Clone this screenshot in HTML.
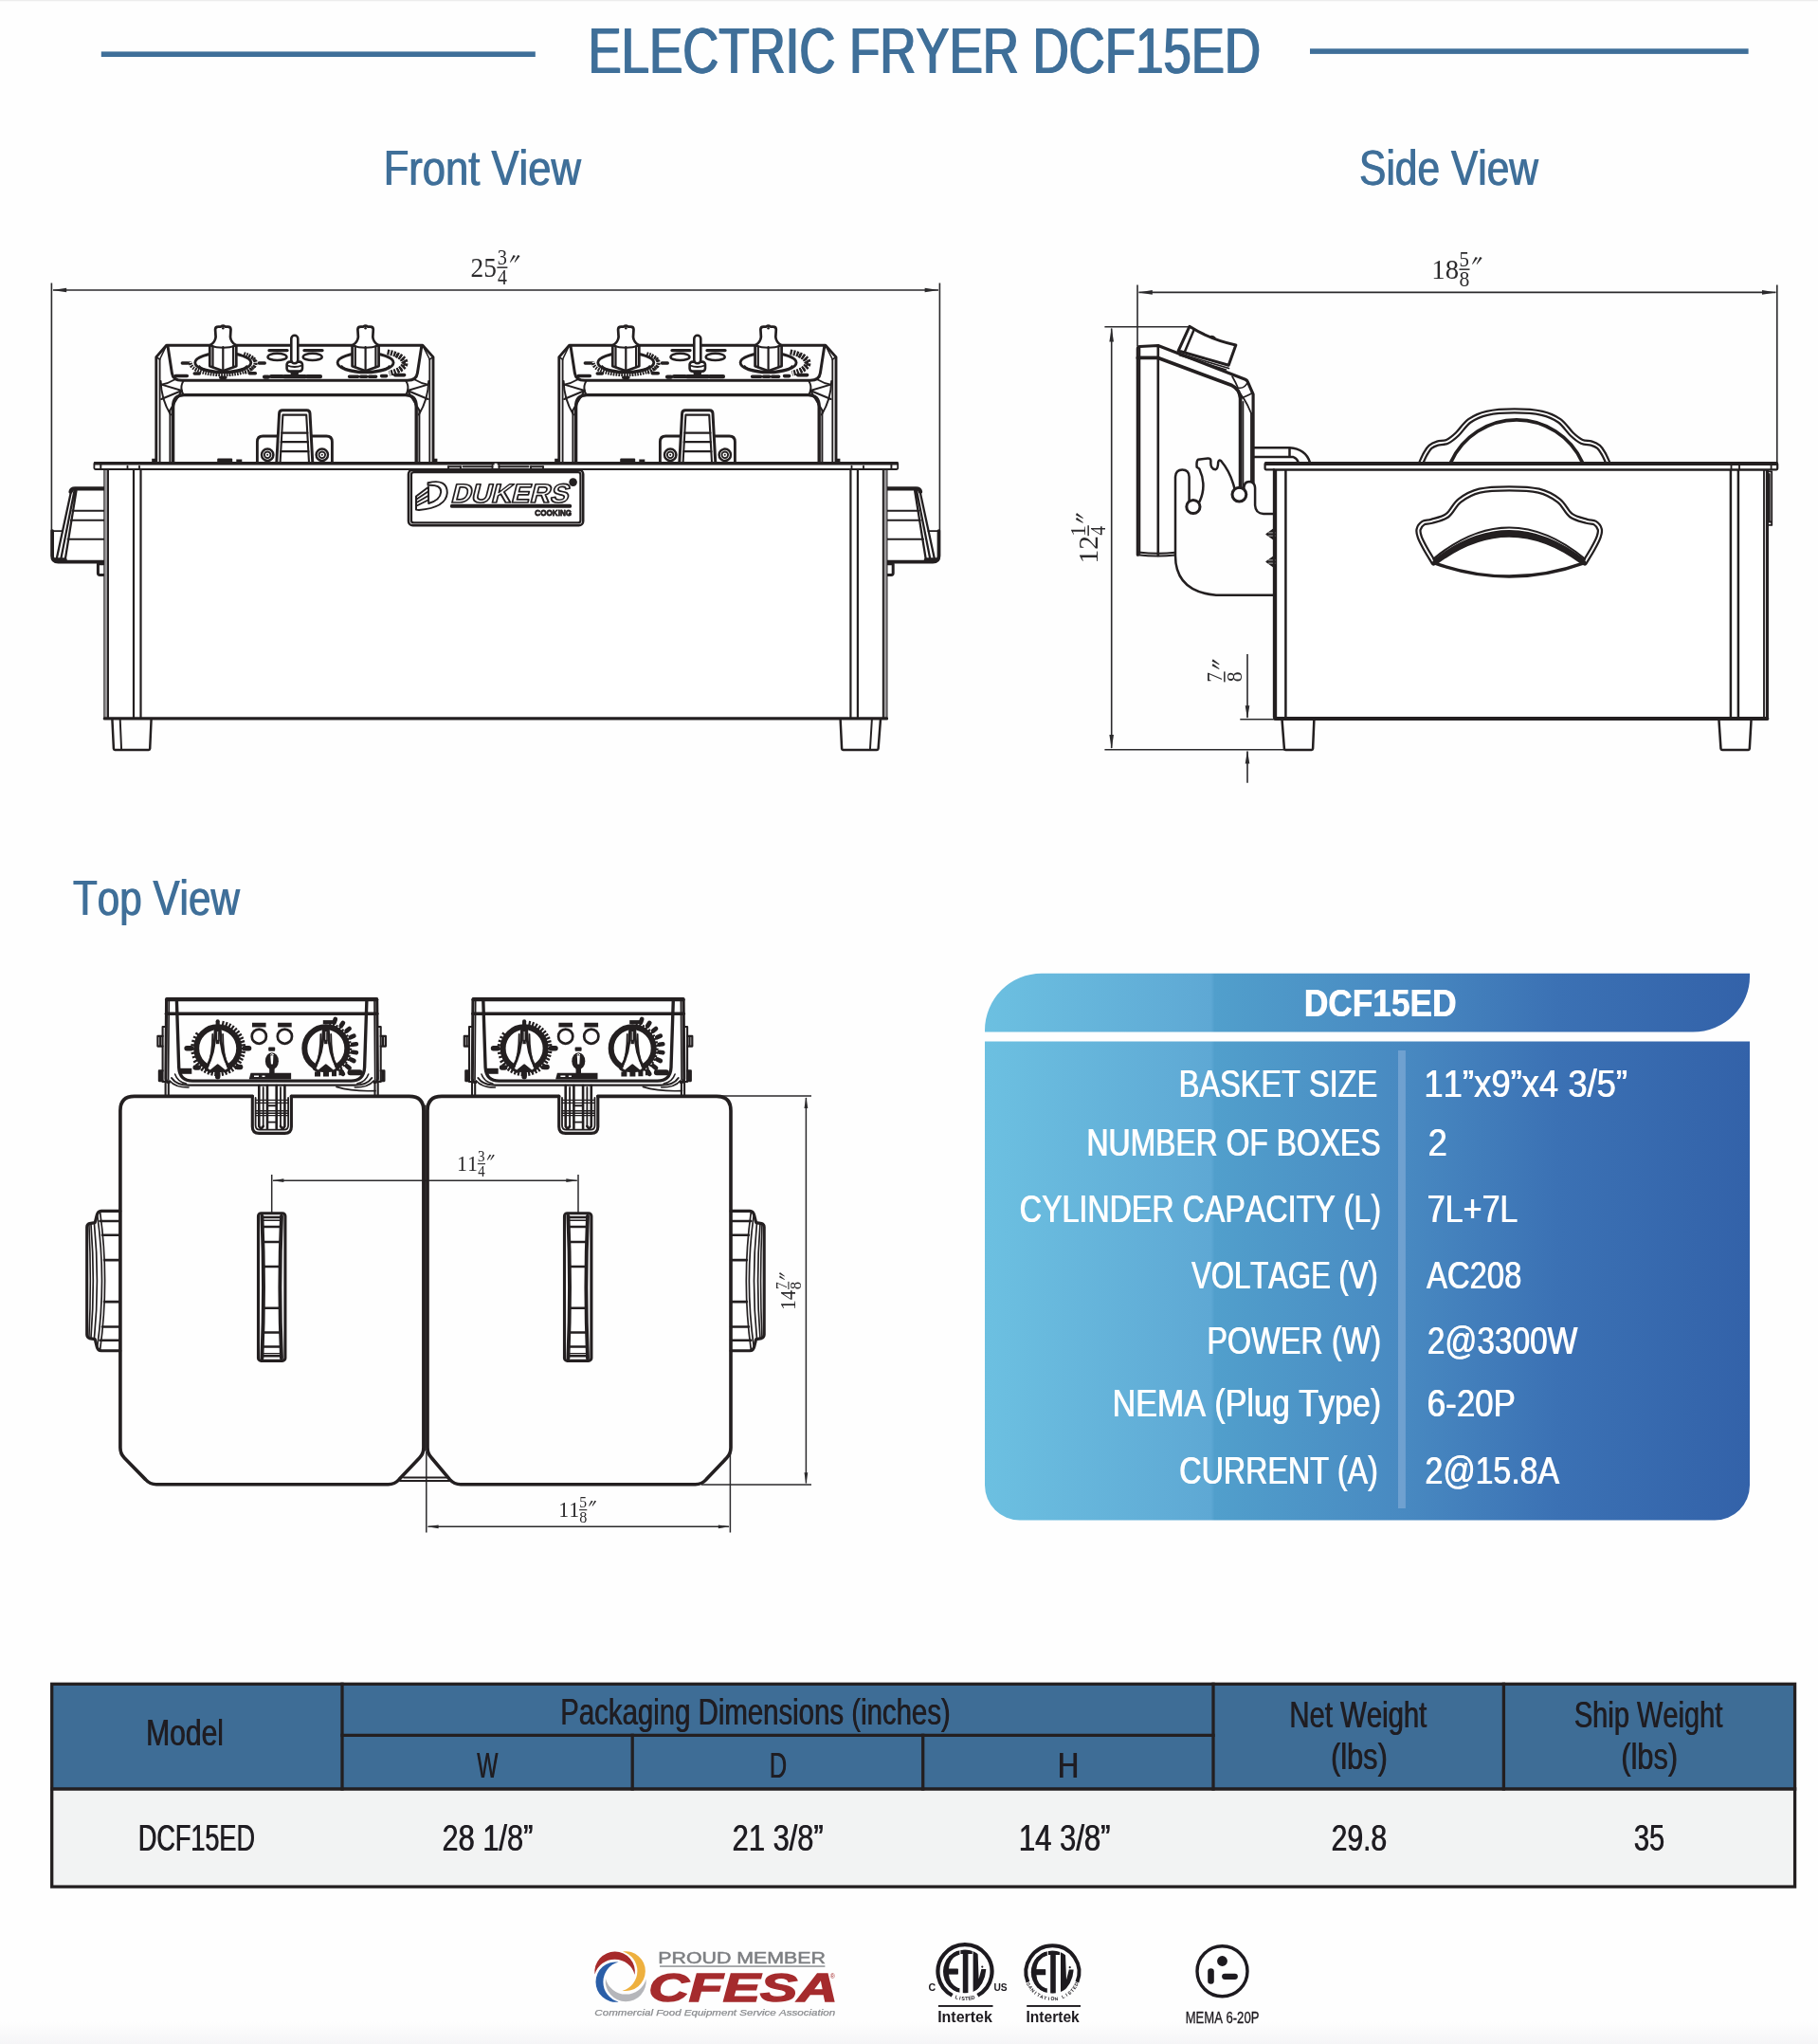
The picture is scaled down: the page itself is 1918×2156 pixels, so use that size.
<!DOCTYPE html>
<html lang="en"><head><meta charset="utf-8"><title>Electric Fryer DCF15ED</title>
<style>html,body{margin:0;padding:0;background:#fff;}body{width:1918px;height:2156px;overflow:hidden;font-family:"Liberation Sans",sans-serif;}svg{display:block;will-change:transform;}text{font-kerning:none;white-space:pre;}</style></head><body>
<svg width="1918" height="2156" viewBox="0 0 1918 2156">
<defs><linearGradient id="bg" x1="0" y1="0" x2="0" y2="1"><stop offset="0" stop-color="#fefefe"/><stop offset="1" stop-color="#f5f5f7"/></linearGradient></defs>
<rect width="1918" height="2156" fill="#fefefe"/>
<rect x="0" y="2132" width="1918" height="24" fill="url(#bg)"/>
<rect x="0" y="0" width="1918" height="1.2" fill="#ececec"/>
<rect x="106.8" y="54.4" width="458" height="5.6" fill="#3f6f99"/>
<rect x="1382" y="51.3" width="462.6" height="5.6" fill="#3f6f99"/>
<text x="619.67" y="76.90" textLength="709.55" lengthAdjust="spacingAndGlyphs" style="font-family:'Liberation Sans', sans-serif;font-size:69px;fill:#3f6f99;">ELECTRIC FRYER DCF15ED</text><text x="620.52" y="76.90" textLength="709.55" lengthAdjust="spacingAndGlyphs" style="font-family:'Liberation Sans', sans-serif;font-size:69px;fill:#3f6f99;">ELECTRIC FRYER DCF15ED</text><text x="621.37" y="76.90" textLength="709.55" lengthAdjust="spacingAndGlyphs" style="font-family:'Liberation Sans', sans-serif;font-size:69px;fill:#3f6f99;">ELECTRIC FRYER DCF15ED</text>
<text x="404.13" y="194.70" textLength="208.27" lengthAdjust="spacingAndGlyphs" style="font-family:'Liberation Sans', sans-serif;font-size:51.3px;fill:#3f6f99;">Front View</text><text x="405.13" y="194.70" textLength="208.27" lengthAdjust="spacingAndGlyphs" style="font-family:'Liberation Sans', sans-serif;font-size:51.3px;fill:#3f6f99;">Front View</text>
<text x="1433.57" y="194.70" textLength="188.93" lengthAdjust="spacingAndGlyphs" style="font-family:'Liberation Sans', sans-serif;font-size:51.3px;fill:#3f6f99;">Side View</text><text x="1434.57" y="194.70" textLength="188.93" lengthAdjust="spacingAndGlyphs" style="font-family:'Liberation Sans', sans-serif;font-size:51.3px;fill:#3f6f99;">Side View</text>
<text x="76.55" y="964.90" textLength="175.84" lengthAdjust="spacingAndGlyphs" style="font-family:'Liberation Sans', sans-serif;font-size:51.3px;fill:#3f6f99;">Top View</text><text x="77.55" y="964.90" textLength="175.84" lengthAdjust="spacingAndGlyphs" style="font-family:'Liberation Sans', sans-serif;font-size:51.3px;fill:#3f6f99;">Top View</text>
<g id="front" fill="none" stroke="#231f20" stroke-linejoin="round" stroke-linecap="round">
<g stroke="#2b2a2c" style="stroke-width:1.6px" stroke-linecap="butt">
<path d="M54.4,298.5 V560 M991.4,298.5 V560 M56,306 H990"/>
</g>
<path transform="translate(55.20,306.00) rotate(180)" d="M0,0 L-15.0,-2.3 L-15.0,2.3 Z" fill="#2b2a2c" stroke="none"/>
<path transform="translate(990.60,306.00) rotate(0)" d="M0,0 L-15.0,-2.3 L-15.0,2.3 Z" fill="#2b2a2c" stroke="none"/>
<g transform="translate(497.70,291.90) rotate(0) scale(1.0)" fill="#2b2a2c" stroke="none">
<text x="-1.20" y="0.00" textLength="27.37" lengthAdjust="spacingAndGlyphs" style="font-family:'Liberation Serif', serif;font-size:30px;fill:#2b2a2c;">25</text>
<text x="27.03" y="-12.90" textLength="10.17" lengthAdjust="spacingAndGlyphs" style="font-family:'Liberation Serif', serif;font-size:23.6px;fill:#2b2a2c;">3</text>
<rect x="26.70" y="-10.5" width="11.0" height="1.5"/>
<text x="27.21" y="7.90" textLength="9.90" lengthAdjust="spacingAndGlyphs" style="font-family:'Liberation Serif', serif;font-size:23.6px;fill:#2b2a2c;">4</text>
<path d="M43.90,-23 L46.20,-21.9 L40.90,-15.1 L40.20,-15.5 Z"/>
<path d="M48.60,-23 L50.90,-21.9 L45.60,-15.1 L44.90,-15.5 Z"/>
</g>
<g>
<path d="M936,515.4 H966.5 Q970.6,515.4 971.2,519.4 L979.4,560.1 H990.5 V586.6 Q990.5,592.6 984.5,592.6 H936 Z" fill="#fff" stroke="none"/>
<path d="M936,515.4 H966.5 Q970.3,515.4 971,518.6" stroke-width="4.42" />
<path d="M970.4,517.6 L985.9,589.5 M967.1,517.6 L981.2,589 M965.1,517.6 L976.8,590" stroke-width="2.27" />
<path d="M979.4,560.1 H990.5" stroke-width="1.95" />
<path d="M990.5,560.1 V586.2 Q990.5,592.6 984.1,592.6 H936" stroke-width="3.77" />
<path d="M977,590.3 L988,590.3" stroke-width="4.16" />
<path d="M936,538.8 H969.2 M936,548.7 H970.8 M936,568.7 H974" stroke-width="2.02" />
<path d="M936.5,594.8 H942.2 V604.6 Q942.2,606.6 940.2,606.6 H936.5" stroke-width="2.99" />
</g>
<g transform="translate(1045.6,0) scale(-1,1)">
<path d="M936,515.4 H966.5 Q970.6,515.4 971.2,519.4 L979.4,560.1 H990.5 V586.6 Q990.5,592.6 984.5,592.6 H936 Z" fill="#fff" stroke="none"/>
<path d="M936,515.4 H966.5 Q970.3,515.4 971,518.6" stroke-width="4.42" />
<path d="M970.4,517.6 L985.9,589.5 M967.1,517.6 L981.2,589 M965.1,517.6 L976.8,590" stroke-width="2.27" />
<path d="M979.4,560.1 H990.5" stroke-width="1.95" />
<path d="M990.5,560.1 V586.2 Q990.5,592.6 984.1,592.6 H936" stroke-width="3.77" />
<path d="M977,590.3 L988,590.3" stroke-width="4.16" />
<path d="M936,538.8 H969.2 M936,548.7 H970.8 M936,568.7 H974" stroke-width="2.02" />
<path d="M936.5,594.8 H942.2 V604.6 Q942.2,606.6 940.2,606.6 H936.5" stroke-width="2.99" />
</g>
<rect x="110.3" y="495" width="825.2" height="262.9" fill="#fff" stroke-width="1.95"/>
<rect x="110.3" y="495" width="3.7" height="262" fill="#9a989a" stroke="none"/><rect x="931.8" y="495" width="3.7" height="262" fill="#9a989a" stroke="none"/>
<path d="M114,495 V757 M931.8,495 V757" stroke-width="1.95" />
<path d="M141,495 V757.9 M148.5,495 V757.9 M897.4,495 V757.9 M904.9,495 V757.9" stroke-width="2.21" />
<path d="M110.3,757.9 H935.5" stroke-width="3.25" />
<path d="M118.4,758.5 L119.9,789.6 Q120,790.9 121.3,790.9 H156.8 Q158.1,790.9 158.2,789.6 L159.6,758.5" stroke-width="2.47" />
<path d="M126.7,758.5 L128.1,790.9" stroke-width="1.95" />
<path d="M886.6,758.5 L888.1,789.6 Q888.2,790.9 889.5,790.9 H925.2 Q926.5,790.9 926.6,789.6 L929,758.5" stroke-width="2.47" />
<path d="M919.9,758.5 L917.9,790.9" stroke-width="1.95" />
<g transform="translate(0,0)">
<path d="M164.8,488 V376.6 L175.6,364.3 H445.9 L457,376.6 V488" stroke-width="2.86" />
<path d="M168.6,488 V379 M453.3,488 V379" stroke-width="1.82" />
<path d="M164.8,376.6 L168.6,379 M457,376.6 L453.3,379" stroke-width="1.56" />
<path d="M177,365 L181.4,393.5 Q182.5,401.3 192,401.3 H429.8 Q439.3,401.3 440.4,393.5 L444.8,365" stroke-width="2.99" />
<path d="M175.6,364.3 L168.6,379 M445.9,364.3 L453.3,379" stroke-width="1.56" />
<path d="M191.8,412 L170.4,405.6 M191.8,412 L170.2,421 M191.8,412 L178.6,434" stroke-width="1.95" />
<path d="M169.6,402 Q170,421 180,437.5" stroke-width="1.95" />
<path d="M184.5,400.3 Q177.5,404.6 170.4,405.6" stroke-width="1.82" />
<path d="M193.4,402 Q190.4,407 191.8,412 Q192.2,414.6 194,416.6" stroke-width="1.95" />
<path d="M429.99999999999994,412 L451.4,405.6 M429.99999999999994,412 L451.59999999999997,421 M429.99999999999994,412 L443.19999999999993,434" stroke-width="1.95" />
<path d="M452.19999999999993,402 Q451.79999999999995,421 441.79999999999995,437.5" stroke-width="1.95" />
<path d="M437.29999999999995,400.3 Q444.29999999999995,404.6 451.4,405.6" stroke-width="1.82" />
<path d="M428.4,402 Q431.4,407 429.99999999999994,412 Q429.59999999999997,414.6 427.79999999999995,416.6" stroke-width="1.95" />
<path d="M182.6,488 V429 Q182.6,416.6 194,416.6 H427.8 Q439.2,416.6 439.2,429 V488" stroke-width="3.38" />
<path d="M179.4,488 V433 M442.4,488 V433" stroke-width="1.95" />
<path d="M190,408.6 H431.8" stroke-width="1.69" opacity="0"/>
<path d="M257.3,373 A34.5,12.6 0 1 1 201.0,381.4" stroke-width="3.90" stroke-dasharray="1.7 1.1" stroke-linecap="butt"/>
<path d="M262.3,375 A37,14 0 0 1 257.3,393.5" stroke-width="3.38" stroke-dasharray="1.8 1.8" stroke-linecap="butt"/>
<path d="M192.3,383 h6 M273.3,383 h6" stroke-width="3.38" />
<path d="M185.3,396.5 h12 M205.3,394 h5 M232.8,398.3 h5 M263.3,393.8 h6" stroke-width="3.64" />
<ellipse cx="235.3" cy="382.6" rx="29.5" ry="10.3" stroke-width="2.86" fill="#fff"/>
<path d="M210.3,386 A26,8 0 0 0 260.3,386" stroke-width="1.69"/>
<path d="M221.3,364.5 Q227.10000000000002,361 227.60000000000002,355.5 L227.10000000000002,347.5 Q227.10000000000002,344.6 230.3,344.6 L233.10000000000002,344.6 Q235.3,342.6 237.5,344.6 L240.3,344.6 Q243.5,344.6 243.5,347.5 L243.0,355.5 Q243.5,361 249.3,364.5 V386.2 L235.3,391.2 L221.3,386.2 Z" stroke-width="2.73" fill="#fff"/>
<path d="M224.5,365 V387.3 M235.3,366 V391 M246.10000000000002,365 V387.3" stroke-width="2.21" />
<path d="M221.3,364.5 Q235.3,369 249.3,364.5" stroke-width="2.08" />
<circle cx="235.3" cy="346.3" r="1.3" fill="#231f20" stroke="none"/>
<path d="M408.6,371.4 A33,12.6 0 0 1 410.6,393.8" stroke-width="5.98" stroke-dasharray="2.2 1.2" stroke-linecap="butt"/>
<path d="M417.6,374.6 A38,13.6 0 0 1 419.1,390.6" stroke-width="4.68" stroke-dasharray="2.2 1.3" stroke-linecap="butt"/>
<path d="M368.6,397.3 h9 M380.6,397.3 h6 M389.6,397.3 h7 M402.6,396.6 h5 M416.6,395.6 h10" stroke-width="3.64" />
<ellipse cx="385.6" cy="382.6" rx="29.5" ry="10.3" stroke-width="2.86" fill="#fff"/>
<path d="M360.6,386 A26,8 0 0 0 410.6,386" stroke-width="1.69"/>
<path d="M371.6,364.5 Q377.40000000000003,361 377.90000000000003,355.5 L377.40000000000003,347.5 Q377.40000000000003,344.6 380.6,344.6 L383.40000000000003,344.6 Q385.6,342.6 387.8,344.6 L390.6,344.6 Q393.8,344.6 393.8,347.5 L393.3,355.5 Q393.8,361 399.6,364.5 V386.2 L385.6,391.2 L371.6,386.2 Z" stroke-width="2.73" fill="#fff"/>
<path d="M374.8,365 V387.3 M385.6,366 V391 M396.40000000000003,365 V387.3" stroke-width="2.21" />
<path d="M371.6,364.5 Q385.6,369 399.6,364.5" stroke-width="2.08" />
<circle cx="385.6" cy="346.3" r="1.3" fill="#231f20" stroke="none"/>
<ellipse cx="292.5" cy="376.4" rx="10" ry="3.7" stroke-width="2.47" fill="#fff"/>
<ellipse cx="329.7" cy="376.4" rx="10" ry="3.7" stroke-width="2.47" fill="#fff"/>
<path d="M284,369.6 h19 M321,369.6 h19" stroke-width="3.38" />
<rect x="302.6" y="381.6" width="16.4" height="10" rx="3" stroke-width="2.60" fill="#fff"/>
<rect x="307.3" y="353.8" width="7" height="29.5" rx="3.5" stroke-width="2.60" fill="#fff"/>
<path d="M303,385.5 Q310.8,388.5 318.6,385.5" stroke-width="1.82" />
<path d="M306,392 h9.6 l-1.4,4.8 h-6.8 Z" fill="#231f20" stroke="none"/>
<path d="M279,397.6 h4 M286,397 h12 M300,397.2 h22 M324,397.2 h14" stroke-width="4.16" />
<path d="M271.4,488 V466 Q271.4,460 277.4,460 H344.4 Q350.4,460 350.4,466 V488" stroke-width="2.86" fill="#fff"/>
<path d="M291.8,488 L294.6,436 Q294.8,432.8 298,432.8 H323.6 Q326.8,432.8 327,436 L329.8,488" stroke-width="2.99" fill="#fff"/>
<path d="M295.6,488 L298.4,437.6 H323.2 L326,488" stroke-width="2.08" />
<path d="M297.3,456.6 H324.3 M296.8,466.2 H324.8 M296.3,476.2 H325.3" stroke-width="2.34" />
<circle cx="282.2" cy="479.8" r="6.2" stroke-width="2.47" fill="#fff"/>
<circle cx="282.2" cy="479.8" r="3.3" stroke-width="1.82"/>
<circle cx="282.2" cy="479.8" r="1" fill="#231f20" stroke="none"/>
<circle cx="339.8" cy="479.8" r="6.2" stroke-width="2.47" fill="#fff"/>
<circle cx="339.8" cy="479.8" r="3.3" stroke-width="1.82"/>
<circle cx="339.8" cy="479.8" r="1" fill="#231f20" stroke="none"/>
<path d="M229.2,488 v-3.6 q0,-1 1,-1 h14 q1,0 1,1 v3.6 Z M249.3,488 v-3.4 h6 v3.4 Z M160.2,488 v-4.2 h4 v4.2 Z M457.4,488 v-4.2 h4 v4.2 Z" fill="#231f20" stroke="none"/>
</g>
<g transform="translate(425,0)">
<path d="M164.8,488 V376.6 L175.6,364.3 H445.9 L457,376.6 V488" stroke-width="2.86" />
<path d="M168.6,488 V379 M453.3,488 V379" stroke-width="1.82" />
<path d="M164.8,376.6 L168.6,379 M457,376.6 L453.3,379" stroke-width="1.56" />
<path d="M177,365 L181.4,393.5 Q182.5,401.3 192,401.3 H429.8 Q439.3,401.3 440.4,393.5 L444.8,365" stroke-width="2.99" />
<path d="M175.6,364.3 L168.6,379 M445.9,364.3 L453.3,379" stroke-width="1.56" />
<path d="M191.8,412 L170.4,405.6 M191.8,412 L170.2,421 M191.8,412 L178.6,434" stroke-width="1.95" />
<path d="M169.6,402 Q170,421 180,437.5" stroke-width="1.95" />
<path d="M184.5,400.3 Q177.5,404.6 170.4,405.6" stroke-width="1.82" />
<path d="M193.4,402 Q190.4,407 191.8,412 Q192.2,414.6 194,416.6" stroke-width="1.95" />
<path d="M429.99999999999994,412 L451.4,405.6 M429.99999999999994,412 L451.59999999999997,421 M429.99999999999994,412 L443.19999999999993,434" stroke-width="1.95" />
<path d="M452.19999999999993,402 Q451.79999999999995,421 441.79999999999995,437.5" stroke-width="1.95" />
<path d="M437.29999999999995,400.3 Q444.29999999999995,404.6 451.4,405.6" stroke-width="1.82" />
<path d="M428.4,402 Q431.4,407 429.99999999999994,412 Q429.59999999999997,414.6 427.79999999999995,416.6" stroke-width="1.95" />
<path d="M182.6,488 V429 Q182.6,416.6 194,416.6 H427.8 Q439.2,416.6 439.2,429 V488" stroke-width="3.38" />
<path d="M179.4,488 V433 M442.4,488 V433" stroke-width="1.95" />
<path d="M190,408.6 H431.8" stroke-width="1.69" opacity="0"/>
<path d="M257.3,373 A34.5,12.6 0 1 1 201.0,381.4" stroke-width="3.90" stroke-dasharray="1.7 1.1" stroke-linecap="butt"/>
<path d="M262.3,375 A37,14 0 0 1 257.3,393.5" stroke-width="3.38" stroke-dasharray="1.8 1.8" stroke-linecap="butt"/>
<path d="M192.3,383 h6 M273.3,383 h6" stroke-width="3.38" />
<path d="M185.3,396.5 h12 M205.3,394 h5 M232.8,398.3 h5 M263.3,393.8 h6" stroke-width="3.64" />
<ellipse cx="235.3" cy="382.6" rx="29.5" ry="10.3" stroke-width="2.86" fill="#fff"/>
<path d="M210.3,386 A26,8 0 0 0 260.3,386" stroke-width="1.69"/>
<path d="M221.3,364.5 Q227.10000000000002,361 227.60000000000002,355.5 L227.10000000000002,347.5 Q227.10000000000002,344.6 230.3,344.6 L233.10000000000002,344.6 Q235.3,342.6 237.5,344.6 L240.3,344.6 Q243.5,344.6 243.5,347.5 L243.0,355.5 Q243.5,361 249.3,364.5 V386.2 L235.3,391.2 L221.3,386.2 Z" stroke-width="2.73" fill="#fff"/>
<path d="M224.5,365 V387.3 M235.3,366 V391 M246.10000000000002,365 V387.3" stroke-width="2.21" />
<path d="M221.3,364.5 Q235.3,369 249.3,364.5" stroke-width="2.08" />
<circle cx="235.3" cy="346.3" r="1.3" fill="#231f20" stroke="none"/>
<path d="M408.6,371.4 A33,12.6 0 0 1 410.6,393.8" stroke-width="5.98" stroke-dasharray="2.2 1.2" stroke-linecap="butt"/>
<path d="M417.6,374.6 A38,13.6 0 0 1 419.1,390.6" stroke-width="4.68" stroke-dasharray="2.2 1.3" stroke-linecap="butt"/>
<path d="M368.6,397.3 h9 M380.6,397.3 h6 M389.6,397.3 h7 M402.6,396.6 h5 M416.6,395.6 h10" stroke-width="3.64" />
<ellipse cx="385.6" cy="382.6" rx="29.5" ry="10.3" stroke-width="2.86" fill="#fff"/>
<path d="M360.6,386 A26,8 0 0 0 410.6,386" stroke-width="1.69"/>
<path d="M371.6,364.5 Q377.40000000000003,361 377.90000000000003,355.5 L377.40000000000003,347.5 Q377.40000000000003,344.6 380.6,344.6 L383.40000000000003,344.6 Q385.6,342.6 387.8,344.6 L390.6,344.6 Q393.8,344.6 393.8,347.5 L393.3,355.5 Q393.8,361 399.6,364.5 V386.2 L385.6,391.2 L371.6,386.2 Z" stroke-width="2.73" fill="#fff"/>
<path d="M374.8,365 V387.3 M385.6,366 V391 M396.40000000000003,365 V387.3" stroke-width="2.21" />
<path d="M371.6,364.5 Q385.6,369 399.6,364.5" stroke-width="2.08" />
<circle cx="385.6" cy="346.3" r="1.3" fill="#231f20" stroke="none"/>
<ellipse cx="292.5" cy="376.4" rx="10" ry="3.7" stroke-width="2.47" fill="#fff"/>
<ellipse cx="329.7" cy="376.4" rx="10" ry="3.7" stroke-width="2.47" fill="#fff"/>
<path d="M284,369.6 h19 M321,369.6 h19" stroke-width="3.38" />
<rect x="302.6" y="381.6" width="16.4" height="10" rx="3" stroke-width="2.60" fill="#fff"/>
<rect x="307.3" y="353.8" width="7" height="29.5" rx="3.5" stroke-width="2.60" fill="#fff"/>
<path d="M303,385.5 Q310.8,388.5 318.6,385.5" stroke-width="1.82" />
<path d="M306,392 h9.6 l-1.4,4.8 h-6.8 Z" fill="#231f20" stroke="none"/>
<path d="M279,397.6 h4 M286,397 h12 M300,397.2 h22 M324,397.2 h14" stroke-width="4.16" />
<path d="M271.4,488 V466 Q271.4,460 277.4,460 H344.4 Q350.4,460 350.4,466 V488" stroke-width="2.86" fill="#fff"/>
<path d="M291.8,488 L294.6,436 Q294.8,432.8 298,432.8 H323.6 Q326.8,432.8 327,436 L329.8,488" stroke-width="2.99" fill="#fff"/>
<path d="M295.6,488 L298.4,437.6 H323.2 L326,488" stroke-width="2.08" />
<path d="M297.3,456.6 H324.3 M296.8,466.2 H324.8 M296.3,476.2 H325.3" stroke-width="2.34" />
<circle cx="282.2" cy="479.8" r="6.2" stroke-width="2.47" fill="#fff"/>
<circle cx="282.2" cy="479.8" r="3.3" stroke-width="1.82"/>
<circle cx="282.2" cy="479.8" r="1" fill="#231f20" stroke="none"/>
<circle cx="339.8" cy="479.8" r="6.2" stroke-width="2.47" fill="#fff"/>
<circle cx="339.8" cy="479.8" r="3.3" stroke-width="1.82"/>
<circle cx="339.8" cy="479.8" r="1" fill="#231f20" stroke="none"/>
<path d="M229.2,488 v-3.6 q0,-1 1,-1 h14 q1,0 1,1 v3.6 Z M249.3,488 v-3.4 h6 v3.4 Z M160.2,488 v-4.2 h4 v4.2 Z M457.4,488 v-4.2 h4 v4.2 Z" fill="#231f20" stroke="none"/>
</g>
<rect x="99.4" y="487.9" width="847.8" height="7.1" rx="1.2" fill="#fff" stroke-width="1.82"/>
<path d="M99.2,488.8 H521.6 M524.6,488.8 H947.4" stroke-width="3.51" stroke-linecap="butt"/>
<path d="M106.3,488 V495 M940.4,488 V495" stroke-width="1.95" />
<path d="M134.5,491.6 V495 M147,491.6 V495 M898.5,491.6 V495 M911,491.6 V495" stroke-width="1.82" />
<path d="M473,492.2 H486 M488.5,492.2 H519.5 M526.5,492.2 H557.5 M560,492.2 H573" stroke-width="1.95" />
<path d="M473,492.2 V495 M486,492.2 V495 M519.5,491 V495 M526.5,491 V495 M560,492.2 V495 M573,492.2 V495" stroke-width="1.82" />
<rect x="431" y="495.6" width="184.2" height="58.6" rx="4.5" stroke-width="2.60" fill="#fff"/>
<rect x="434" y="498.2" width="178.4" height="53.2" rx="2.5" stroke-width="2.21"/>
<path d="M451.5,509.2 Q472,504.5 471.8,520 Q470.5,535.5 442,538 L439,537.6 L439,523.5 L452,513.8 L452.2,531 Q464.5,527.5 465.2,519 Q465.5,511 451.5,511.8 Z" stroke-width="1.95" />
<path d="M439.6,526.5 L451.6,518.5 M439.6,530 L451.6,523 M439.6,533.5 L451.6,527.5" stroke-width="1.82" />
<g transform="translate(476.5,530) skewX(-14)">
<text x="-1.5" y="0" textLength="124" lengthAdjust="spacingAndGlyphs" style="font-family:'Liberation Sans',sans-serif;font-weight:bold;font-size:28px;fill:#fff;stroke:#231f20;stroke-width:1.7px;">DUKERS</text>
</g>
<rect x="475" y="531.8" width="128" height="4" rx="1.5" fill="#231f20" stroke="none"/>
<text x="564.27" y="543.80" textLength="38.84" lengthAdjust="spacingAndGlyphs" style="font-family:'Liberation Sans', sans-serif;font-weight:bold;font-size:9.5px;fill:#231f20;stroke:#231f20;stroke-width:0.9px;">COOKING</text>
<circle cx="604.6" cy="508.6" r="4.3" fill="#231f20" stroke="none"/>
</g>
<g id="side" fill="none" stroke="#231f20" stroke-linejoin="round" stroke-linecap="round">
<g stroke="#2b2a2c" style="stroke-width:1.6px" stroke-linecap="butt">
<path d="M1200,300.5 V365 M1874.8,300.5 V488 M1201.5,308.4 H1873.5"/>
<path d="M1165.4,344.7 H1254 M1165.4,790.8 H1356 M1172.7,346.5 V789"/>
<path d="M1308.3,758.8 H1345 M1316,690 V757 M1316,792.5 V825.8"/>
</g>
<path transform="translate(1200.80,308.40) rotate(180)" d="M0,0 L-15.0,-2.3 L-15.0,2.3 Z" fill="#2b2a2c" stroke="none"/>
<path transform="translate(1874.00,308.40) rotate(0)" d="M0,0 L-15.0,-2.3 L-15.0,2.3 Z" fill="#2b2a2c" stroke="none"/>
<path transform="translate(1172.70,345.60) rotate(-90)" d="M0,0 L-15.0,-2.3 L-15.0,2.3 Z" fill="#2b2a2c" stroke="none"/>
<path transform="translate(1172.70,790.00) rotate(90)" d="M0,0 L-15.0,-2.3 L-15.0,2.3 Z" fill="#2b2a2c" stroke="none"/>
<path transform="translate(1316.00,758.20) rotate(90)" d="M0,0 L-14,-2.3 L-14,2.3 Z" fill="#2b2a2c" stroke="none"/>
<path transform="translate(1316.00,791.40) rotate(-90)" d="M0,0 L-14,-2.3 L-14,2.3 Z" fill="#2b2a2c" stroke="none"/>
<g transform="translate(1512.80,293.90) rotate(0) scale(1.0)" fill="#2b2a2c" stroke="none">
<text x="-2.52" y="0.00" textLength="28.72" lengthAdjust="spacingAndGlyphs" style="font-family:'Liberation Serif', serif;font-size:30px;fill:#2b2a2c;">18</text>
<text x="26.79" y="-12.90" textLength="10.43" lengthAdjust="spacingAndGlyphs" style="font-family:'Liberation Serif', serif;font-size:23.6px;fill:#2b2a2c;">5</text>
<rect x="26.70" y="-10.5" width="11.0" height="1.5"/>
<text x="26.77" y="7.90" textLength="10.85" lengthAdjust="spacingAndGlyphs" style="font-family:'Liberation Serif', serif;font-size:23.6px;fill:#2b2a2c;">8</text>
<path d="M43.90,-23 L46.20,-21.9 L40.90,-15.1 L40.20,-15.5 Z"/>
<path d="M48.60,-23 L50.90,-21.9 L45.60,-15.1 L44.90,-15.5 Z"/>
</g>
<g transform="translate(1157.90,591.90) rotate(-90) scale(1.0)" fill="#2b2a2c" stroke="none">
<text x="-2.57" y="0.00" textLength="29.29" lengthAdjust="spacingAndGlyphs" style="font-family:'Liberation Serif', serif;font-size:30px;fill:#2b2a2c;">12</text>
<text x="25.90" y="-12.90" textLength="11.93" lengthAdjust="spacingAndGlyphs" style="font-family:'Liberation Serif', serif;font-size:23.6px;fill:#2b2a2c;">1</text>
<rect x="26.70" y="-10.5" width="11.0" height="1.5"/>
<text x="27.21" y="7.90" textLength="9.90" lengthAdjust="spacingAndGlyphs" style="font-family:'Liberation Serif', serif;font-size:23.6px;fill:#2b2a2c;">4</text>
<path d="M43.90,-23 L46.20,-21.9 L40.90,-15.1 L40.20,-15.5 Z"/>
<path d="M48.60,-23 L50.90,-21.9 L45.60,-15.1 L44.90,-15.5 Z"/>
</g>
<g transform="translate(1301.60,719.40) rotate(-90) scale(1.0)" fill="#2b2a2c" stroke="none">
<text x="-0.07" y="-12.90" textLength="10.36" lengthAdjust="spacingAndGlyphs" style="font-family:'Liberation Serif', serif;font-size:23.6px;fill:#2b2a2c;">7</text>
<rect x="0.00" y="-10.5" width="11.0" height="1.5"/>
<text x="0.07" y="7.90" textLength="10.85" lengthAdjust="spacingAndGlyphs" style="font-family:'Liberation Serif', serif;font-size:23.6px;fill:#2b2a2c;">8</text>
<path d="M17.20,-23 L19.50,-21.9 L14.20,-15.1 L13.50,-15.5 Z"/>
<path d="M21.90,-23 L24.20,-21.9 L18.90,-15.1 L18.20,-15.5 Z"/>
</g>
<path d="M1499.6,487.5 C1500.3,486.0 1502.4,481.1 1504.0,478.4 C1505.6,475.7 1506.9,473.2 1509.0,471.4 C1511.1,469.6 1513.6,468.5 1516.6,467.6 C1519.6,466.7 1523.3,467.4 1526.8,465.8 C1530.2,464.2 1533.4,461.7 1537.3,458.0 C1541.2,454.3 1545.2,447.5 1550.4,443.8 C1555.7,440.1 1560.9,437.5 1568.8,435.8 C1576.7,434.1 1588.1,433.4 1597.8,433.4 C1607.5,433.4 1618.9,434.1 1626.8,435.8 C1634.7,437.5 1639.9,440.1 1645.2,443.8 C1650.4,447.5 1654.4,454.3 1658.3,458.0 C1662.2,461.7 1665.3,464.2 1668.8,465.8 C1672.2,467.4 1676.0,466.7 1679.0,467.6 C1682.0,468.5 1684.5,469.6 1686.6,471.4 C1688.7,473.2 1690.0,475.7 1691.6,478.4 C1693.2,481.1 1695.3,486.0 1696.0,487.5" stroke-width="6.34" />
<path d="M1499.6,487.5 C1500.3,486.0 1502.4,481.1 1504.0,478.4 C1505.6,475.7 1506.9,473.2 1509.0,471.4 C1511.1,469.6 1513.6,468.5 1516.6,467.6 C1519.6,466.7 1523.3,467.4 1526.8,465.8 C1530.2,464.2 1533.4,461.7 1537.3,458.0 C1541.2,454.3 1545.2,447.5 1550.4,443.8 C1555.7,440.1 1560.9,437.5 1568.8,435.8 C1576.7,434.1 1588.1,433.4 1597.8,433.4 C1607.5,433.4 1618.9,434.1 1626.8,435.8 C1634.7,437.5 1639.9,440.1 1645.2,443.8 C1650.4,447.5 1654.4,454.3 1658.3,458.0 C1662.2,461.7 1665.3,464.2 1668.8,465.8 C1672.2,467.4 1676.0,466.7 1679.0,467.6 C1682.0,468.5 1684.5,469.6 1686.6,471.4 C1688.7,473.2 1690.0,475.7 1691.6,478.4 C1693.2,481.1 1695.3,486.0 1696.0,487.5" stroke-width="1.85" stroke="#fff"/>
<path d="M1530.7,487.5 A76.1,76.1 0 0 1 1669.3,487.5" stroke-width="3.70" />
<rect x="1345.6" y="495" width="518.8" height="262.9" fill="#fff" stroke-width="3.17"/>
<path d="M1356.4,495 V757 M1825.9,495 V757 M1833.9,495 V757" stroke-width="2.51" />
<path d="M1861,495 V757" stroke-width="1.85" />
<path d="M1345.6,757.9 H1864.4" stroke-width="3.96" />
<path d="M1352.5,758.5 L1354.9,789.6 Q1355,790.9 1356.3,790.9 H1383.7 Q1385,790.9 1385.1,789.6 L1386.4,758.5" stroke-width="2.51" />
<path d="M1813.4,758.5 L1815.5,789.6 Q1815.6,790.9 1816.9,790.9 H1844.4 Q1845.7,790.9 1845.8,789.6 L1847.6,758.5" stroke-width="2.51" />
<path d="M1864.8,497.4 H1869.2 V553.9 H1864.8 M1866.8,500 V550.5 M1864.8,550.5 H1869.2" stroke-width="1.85" />
<rect x="1334.6" y="488.4" width="540.6" height="6.9" rx="1" fill="#fff" stroke-width="2.24"/>
<path d="M1334.6,488.9 H1875.2" stroke-width="3.96" stroke-linecap="butt"/>
<path d="M1826.5,489 V495 M1835,489 V495 M1868.6,489 V495" stroke-width="1.85" />
<path d="M1512.6,593.3 C1511.2,590.9 1506.5,583.5 1504.0,579.0 C1501.5,574.5 1499.0,569.9 1497.8,566.5 C1496.6,563.1 1496.0,560.9 1496.6,558.4 C1497.2,555.9 1499.3,553.0 1501.6,551.6 C1503.9,550.2 1506.2,551.1 1510.4,549.8 C1514.6,548.5 1522.1,547.2 1527.0,543.6 C1531.9,540.0 1534.3,532.3 1540.0,528.0 C1545.7,523.7 1552.3,519.8 1561.0,517.7 C1569.7,515.6 1581.8,515.3 1592.2,515.3 C1602.6,515.3 1614.7,515.6 1623.4,517.7 C1632.1,519.8 1638.7,523.7 1644.4,528.0 C1650.1,532.3 1652.5,540.0 1657.4,543.6 C1662.3,547.2 1669.8,548.5 1674.0,549.8 C1678.2,551.1 1680.5,550.2 1682.8,551.6 C1685.1,553.0 1687.2,555.9 1687.8,558.4 C1688.4,560.9 1687.8,563.1 1686.6,566.5 C1685.4,569.9 1682.9,574.5 1680.4,579.0 C1677.9,583.5 1673.2,590.9 1671.8,593.3" stroke-width="6.34" />
<path d="M1512.6,593.3 C1511.2,590.9 1506.5,583.5 1504.0,579.0 C1501.5,574.5 1499.0,569.9 1497.8,566.5 C1496.6,563.1 1496.0,560.9 1496.6,558.4 C1497.2,555.9 1499.3,553.0 1501.6,551.6 C1503.9,550.2 1506.2,551.1 1510.4,549.8 C1514.6,548.5 1522.1,547.2 1527.0,543.6 C1531.9,540.0 1534.3,532.3 1540.0,528.0 C1545.7,523.7 1552.3,519.8 1561.0,517.7 C1569.7,515.6 1581.8,515.3 1592.2,515.3 C1602.6,515.3 1614.7,515.6 1623.4,517.7 C1632.1,519.8 1638.7,523.7 1644.4,528.0 C1650.1,532.3 1652.5,540.0 1657.4,543.6 C1662.3,547.2 1669.8,548.5 1674.0,549.8 C1678.2,551.1 1680.5,550.2 1682.8,551.6 C1685.1,553.0 1687.2,555.9 1687.8,558.4 C1688.4,560.9 1687.8,563.1 1686.6,566.5 C1685.4,569.9 1682.9,574.5 1680.4,579.0 C1677.9,583.5 1673.2,590.9 1671.8,593.3" stroke-width="1.85" stroke="#fff"/>
<path d="M1512.3,589.5 Q1592.2,523.5 1672.1,589.5" stroke-width="2.11" />
<path d="M1512.3,591 Q1592.2,528.5 1672.1,591 L1668.5,594.5 Q1592.2,537.5 1516,594.5 Z" fill="#231f20" stroke-width="1.32"/>
<path d="M1512.6,593.6 Q1592.2,622.5 1671.8,593.6" stroke-width="3.43" />
<path d="M1322.3,472.3 H1360.5 Q1377.5,473.5 1382,487.8 M1322.3,482.1 H1364.5 Q1368.5,483.5 1369.8,487.8 M1360.5,472.3 V482.1" stroke-width="2.51" />
<path d="M1343.8,627.8 H1283 Q1240,624 1240,586 V503 Q1240.5,495.6 1247.3,495.6 Q1254.4,495.6 1254.6,503 V527.8 M1265.6,529 Q1273.4,512 1265.3,494.5 L1262.7,492.8 Q1262,486.3 1264,484.8 L1274.2,483.4 Q1277.6,483.3 1277.4,486.6 Q1276.8,495 1282.4,495.2 Q1285,494.6 1285.2,487.5 Q1285.9,484.2 1288.3,486.3 Q1298.5,498.5 1302.6,516 M1312.3,515.3 Q1312.4,508 1318.2,508 Q1323.8,508.3 1324.1,514.8 V533 Q1324.6,541.7 1333,541.9 H1343.8" stroke-width="2.51" />
<circle cx="1258.9" cy="534.5" r="7.1" stroke-width="3.04" fill="#fff"/>
<circle cx="1307.4" cy="521.6" r="7.4" stroke-width="3.04" fill="#fff"/>
<path d="M1345,557.0 L1336,563.5 L1345,570.0 Z" fill="#231f20" stroke-width="1.32"/>
<path d="M1338.5,561.9 H1345 M1338.5,565.1 H1345" stroke-width="1.06" stroke="#999"/>
<path d="M1345,586.0 L1336,592.5 L1345,599.0 Z" fill="#231f20" stroke-width="1.32"/>
<path d="M1338.5,590.9 H1345 M1338.5,594.1 H1345" stroke-width="1.06" stroke="#999"/>
<path d="M1343.9,495 V757" stroke-width="2.11" />
<path d="M1200.3,585.2 V367.8 Q1200.3,365.6 1202.5,365.5 L1221.8,364.5 L1313.8,400.2 Q1315.6,401 1316.4,402.8 L1322.1,416 V509" stroke-width="3.17" />
<path d="M1202.4,367.5 V584" stroke-width="1.72" />
<path d="M1200.3,585.2 Q1220,587.8 1239.8,585.6 M1201,582.5 Q1221,584.8 1239.8,582.8" stroke-width="1.98" />
<path d="M1221.8,364.5 V586" stroke-width="2.64" />
<path d="M1200.3,377.4 H1221.8 L1299.7,406.6 Q1307.6,410.2 1308.6,420 V514" stroke-width="3.70" />
<path d="M1311.4,424 V514 M1320,436 V508" stroke-width="1.85" />
<path d="M1300,397 Q1304,404 1306,409 Q1313,410.5 1316.4,403 M1303,409.5 Q1313.5,419 1320,436 M1308.5,420.5 Q1317,417 1321.5,414.5" stroke-width="1.72" />
<path d="M1243.2,370 L1254.9,344.3 Q1277,358.2 1303.8,363.9 L1296.2,385.3 Z" fill="#fff" stroke-width="3.04"/>
<path d="M1259.8,347.4 L1249.6,371.8" stroke-width="2.51" />
<path d="M1243.5,372.6 L1296.5,388.6 M1244.5,374.8 L1293.5,390" stroke-width="1.58" />
<path d="M1276,355.3 q3,-2.2 6,1 Z" fill="#231f20" stroke-width="1.32"/>
</g>
<g id="top" fill="none" stroke="#231f20" stroke-linejoin="round" stroke-linecap="round">
<g stroke="#2b2a2c" style="stroke-width:1.5px" stroke-linecap="butt">
<path d="M286.7,1239 V1280 M610,1239 V1280 M288,1245.2 H608.8"/>
<path d="M760,1156.1 H856 M740,1566.1 H856 M850.4,1158 V1564.4"/>
<path d="M449.8,1531 V1616.5 M770.4,1533 V1616.5 M451.5,1610.3 H769"/>
</g>
<path transform="translate(287.40,1245.20) rotate(180)" d="M0,0 L-12,-1.9 L-12,1.9 Z" fill="#2b2a2c" stroke="none"/>
<path transform="translate(609.30,1245.20) rotate(0)" d="M0,0 L-12,-1.9 L-12,1.9 Z" fill="#2b2a2c" stroke="none"/>
<path transform="translate(850.40,1157.00) rotate(-90)" d="M0,0 L-12,-1.9 L-12,1.9 Z" fill="#2b2a2c" stroke="none"/>
<path transform="translate(850.40,1565.30) rotate(90)" d="M0,0 L-12,-1.9 L-12,1.9 Z" fill="#2b2a2c" stroke="none"/>
<path transform="translate(450.60,1610.30) rotate(180)" d="M0,0 L-12,-1.9 L-12,1.9 Z" fill="#2b2a2c" stroke="none"/>
<path transform="translate(769.80,1610.30) rotate(0)" d="M0,0 L-12,-1.9 L-12,1.9 Z" fill="#2b2a2c" stroke="none"/>
<g transform="translate(483.90,1234.90) rotate(0) scale(0.745)" fill="#2b2a2c" stroke="none">
<text x="-2.59" y="0.00" textLength="29.46" lengthAdjust="spacingAndGlyphs" style="font-family:'Liberation Serif', serif;font-size:30px;fill:#2b2a2c;">11</text>
<text x="27.03" y="-12.90" textLength="10.17" lengthAdjust="spacingAndGlyphs" style="font-family:'Liberation Serif', serif;font-size:23.6px;fill:#2b2a2c;">3</text>
<rect x="26.70" y="-10.5" width="11.0" height="1.5"/>
<text x="27.21" y="7.90" textLength="9.90" lengthAdjust="spacingAndGlyphs" style="font-family:'Liberation Serif', serif;font-size:23.6px;fill:#2b2a2c;">4</text>
<path d="M43.90,-23 L46.20,-21.9 L40.90,-15.1 L40.20,-15.5 Z"/>
<path d="M48.60,-23 L50.90,-21.9 L45.60,-15.1 L44.90,-15.5 Z"/>
</g>
<g transform="translate(591.20,1599.90) rotate(0) scale(0.745)" fill="#2b2a2c" stroke="none">
<text x="-2.59" y="0.00" textLength="29.46" lengthAdjust="spacingAndGlyphs" style="font-family:'Liberation Serif', serif;font-size:30px;fill:#2b2a2c;">11</text>
<text x="26.79" y="-12.90" textLength="10.43" lengthAdjust="spacingAndGlyphs" style="font-family:'Liberation Serif', serif;font-size:23.6px;fill:#2b2a2c;">5</text>
<rect x="26.70" y="-10.5" width="11.0" height="1.5"/>
<text x="26.77" y="7.90" textLength="10.85" lengthAdjust="spacingAndGlyphs" style="font-family:'Liberation Serif', serif;font-size:23.6px;fill:#2b2a2c;">8</text>
<path d="M43.90,-23 L46.20,-21.9 L40.90,-15.1 L40.20,-15.5 Z"/>
<path d="M48.60,-23 L50.90,-21.9 L45.60,-15.1 L44.90,-15.5 Z"/>
</g>
<g transform="translate(839.20,1379.90) rotate(-90) scale(0.745)" fill="#2b2a2c" stroke="none">
<text x="-2.46" y="0.00" textLength="28.00" lengthAdjust="spacingAndGlyphs" style="font-family:'Liberation Serif', serif;font-size:30px;fill:#2b2a2c;">14</text>
<text x="26.63" y="-12.90" textLength="10.36" lengthAdjust="spacingAndGlyphs" style="font-family:'Liberation Serif', serif;font-size:23.6px;fill:#2b2a2c;">7</text>
<rect x="26.70" y="-10.5" width="11.0" height="1.5"/>
<text x="26.77" y="7.90" textLength="10.85" lengthAdjust="spacingAndGlyphs" style="font-family:'Liberation Serif', serif;font-size:23.6px;fill:#2b2a2c;">8</text>
<path d="M43.90,-23 L46.20,-21.9 L40.90,-15.1 L40.20,-15.5 Z"/>
<path d="M48.60,-23 L50.90,-21.9 L45.60,-15.1 L44.90,-15.5 Z"/>
</g>
<g transform="translate(0,0)">
<path d="M174.6,1141 V1156 M177.8,1142 V1156 M395.5,1142 V1156 M398.7,1141 V1156" stroke-width="2.08" />
<path d="M176.4,1053.6 H396.9 Q397.7,1053.6 397.7,1054.4 L398.4,1138 Q398.3,1141.4 395,1141.6 M176.4,1053.6 Q175.6,1053.6 175.6,1054.4 L174.9,1138 Q175,1141.4 178.3,1141.6" stroke-width="3.12" />
<path d="M176,1054.3 H397.3" stroke-width="3.90" />
<path d="M175.4,1069.3 H397.9" stroke-width="3.38" />
<path d="M178.3,1055 L177.6,1139 M395,1055 L395.7,1139" stroke-width="1.69" />
<path d="M186.4,1055 L188.7,1126 Q189.6,1140.1 203,1140.1 H370.3 Q383.7,1140.1 384.6,1126 L386.9,1055" stroke-width="3.38" />
<path d="M181,1137 Q186,1144.6 199,1144.6 H374.3 Q387.3,1144.6 392.3,1137" stroke-width="2.08" />
<path d="M179,1140 Q185,1147.2 199,1147 M394.3,1140 Q388.3,1147.2 374.3,1147 M355,1146.4 Q372,1151.6 396,1150.6" stroke-width="1.69" />
<path d="M184.6,1133 Q187.5,1141.5 196.5,1143 M388.7,1133 Q385.8,1141.5 376.8,1143" stroke-width="1.56" />
<path d="M175.3,1083 H171.6 V1141 H175" stroke-width="2.08" />
<path d="M171.6,1092.9 H166.4 V1103.6 H171.6 M169.2,1092.9 V1103.6" stroke-width="2.21" />
<path d="M171.6,1129.4 H167.9 V1140.1 H171.6 M170,1129.4 V1140.1" stroke-width="2.21" />
<path d="M397.99999999999994,1083 H401.69999999999993 V1141 H398.29999999999995" stroke-width="2.08" />
<path d="M401.69999999999993,1092.9 H406.9 V1103.6 H401.69999999999993 M404.09999999999997,1092.9 V1103.6" stroke-width="2.21" />
<path d="M401.69999999999993,1129.4 H405.4 V1140.1 H401.69999999999993 M403.29999999999995,1129.4 V1140.1" stroke-width="2.21" />
<path d="M234.8,1081.8 L235.8,1077.0 M238.0,1082.8 L239.7,1078.1 M241.1,1084.1 L243.4,1079.8 M244.0,1085.9 L246.8,1081.9 M246.5,1088.0 L249.9,1084.5 M248.8,1090.5 L252.6,1087.4 M250.7,1093.2 L254.9,1090.7 M252.3,1096.2 L256.8,1094.3 M253.4,1099.4 L258.1,1098.1 M254.0,1102.7 L258.9,1102.1 M254.2,1106.1 L259.1,1106.1 M253.9,1109.4 L258.8,1110.1 M253.2,1112.7 L257.9,1114.1 M252.0,1115.8 L256.5,1117.9 M250.5,1118.8 L254.6,1121.4 M248.5,1121.5 L252.2,1124.7 M246.2,1123.9 L249.5,1127.6 M243.5,1126.0 L246.3,1130.1 M240.6,1127.7 L242.8,1132.1 M237.5,1129.0 L239.1,1133.7 M234.3,1129.9 L235.2,1134.7 M230.9,1130.3 L231.2,1135.2 M227.6,1130.2 L227.2,1135.1 M224.3,1129.7 L223.2,1134.5 M221.0,1128.7 L219.3,1133.3 M218.0,1127.3 L215.6,1131.6 M215.2,1125.5 L212.2,1129.5 M212.6,1123.3 L209.2,1126.9 M210.4,1120.8 L206.5,1123.8 M208.5,1118.0 L204.2,1120.5 " stroke-width="2.21" stroke-linecap="butt"/>
<path d="M206.7,1114.2 L202.9,1115.5 M205.6,1110.4 L201.7,1111.2 M205.2,1106.5 L201.2,1106.6 M205.4,1102.6 L201.4,1102.1 M206.2,1098.8 L202.4,1097.6 M207.6,1095.1 L204.0,1093.4 M209.6,1091.7 L206.4,1089.5 " stroke-width="2.21" stroke-linecap="butt"/>
<circle cx="229.7" cy="1105.8" r="22.5" stroke-width="5.98" fill="#fff"/>
<path d="M227.1,1086.8 Q226.7,1111.8 217.2,1127.3 L221.7,1130.3 L229.7,1123.8 L237.7,1130.3 L242.2,1127.3 Q232.7,1111.8 232.29999999999998,1086.8 Z" stroke-width="2.86" fill="#fff"/>
<path d="M224.29999999999998,1090.8 Q224.29999999999998,1111.8 219.2,1125.8 M235.1,1090.8 Q235.1,1111.8 240.2,1125.8" stroke-width="1.82" />
<path d="M228.5,1088.8 V1097.8 M230.89999999999998,1088.8 V1097.8" stroke-width="1.56" />
<rect x="228.0" y="1096.8" width="3.4" height="4.4" fill="#231f20" stroke="none"/>
<path d="M229.7,1080.8 V1077.3" stroke-width="4.16" />
<path d="M197.1,1105.8 h4.5 M258.09999999999997,1105.8 h4.5" stroke-width="5.46" />
<path d="M229.7,1132.3 v3.4" stroke-width="5.46" />
<path d="M206.2,1126.1 h3 M250.7,1125.3999999999999 h3" stroke-width="5.46" />
<path d="M190,1129.8 H202.3" stroke-width="5.98" stroke-linecap="butt"/>
<circle cx="343.8" cy="1105.8" r="22.5" stroke-width="5.98" fill="#fff"/>
<path d="M352.6,1078.6 L353.8,1075.0 M359.8,1082.1 L361.9,1078.9 M365.7,1087.4 L368.6,1085.0 M369.9,1094.2 L373.4,1092.6 M372.1,1101.8 L375.9,1101.3 M372.1,1109.8 L375.9,1110.3 M369.9,1117.4 L373.4,1119.0 M365.7,1124.2 L368.6,1126.6 M359.8,1129.5 L361.9,1132.7 " stroke-width="4.68" />
<path d="M348.1,1081.6 L348.6,1078.8 M351.5,1082.4 L352.4,1079.8 M354.8,1083.8 L356.0,1081.3 M357.8,1085.6 L359.4,1083.3 M360.6,1087.8 L362.5,1085.7 M363.0,1090.4 L365.1,1088.6 M365.0,1093.3 L367.4,1091.9 M366.6,1096.4 L369.1,1095.4 M367.7,1099.8 L370.4,1099.1 M368.3,1103.3 L371.1,1103.0 M368.4,1106.8 L371.2,1106.9 M368.0,1110.3 L370.7,1110.8 M367.1,1113.7 L369.7,1114.6 M365.7,1117.0 L368.2,1118.3 M363.9,1120.0 L366.2,1121.6 M361.6,1122.7 L363.7,1124.7 M359.0,1125.1 L360.8,1127.3 M356.1,1127.1 L357.5,1129.5 " stroke-width="2.08" stroke-linecap="butt"/>
<path d="M340.8,1078.2 h12" stroke-width="4.16" stroke-linecap="butt"/>
<path d="M341.2,1086.8 Q340.8,1111.8 331.3,1127.3 L335.8,1130.3 L343.8,1123.8 L351.8,1130.3 L356.3,1127.3 Q346.8,1111.8 346.40000000000003,1086.8 Z" stroke-width="2.86" fill="#fff"/>
<path d="M338.40000000000003,1090.8 Q338.40000000000003,1111.8 333.3,1125.8 M349.2,1090.8 Q349.2,1111.8 354.3,1125.8" stroke-width="1.82" />
<path d="M342.6,1088.8 V1097.8 M345.0,1088.8 V1097.8" stroke-width="1.56" />
<rect x="342.1" y="1096.8" width="3.4" height="4.4" fill="#231f20" stroke="none"/>
<path d="M332,1133 h6 M341,1133 h6 M350,1132.6 h5 M357.5,1131.6 h5" stroke-width="5.20" stroke-linecap="butt"/>
<path d="M369.5,1131.2 h10" stroke-width="5.98" />
<circle cx="273.3" cy="1093.2" r="7.6" stroke-width="2.73" fill="#fff"/>
<path d="M266.0,1081.1 h14.6" stroke-width="4.68" stroke-linecap="butt"/>
<circle cx="300.4" cy="1093.2" r="7.6" stroke-width="2.73" fill="#fff"/>
<path d="M293.09999999999997,1081.1 h14.6" stroke-width="4.68" stroke-linecap="butt"/>
<rect x="283.2" y="1104.4" width="7" height="4.3" rx="1" fill="#231f20" stroke="none"/>
<ellipse cx="286.9" cy="1119.2" rx="7" ry="9" fill="#231f20" stroke="none"/>
<path d="M285.4,1114 h3 l-0.5,8.6 h-2 Z" fill="#fff" stroke="none"/>
<circle cx="286.9" cy="1112.7" r="1.2" stroke="#fff" stroke-width="0.91" fill="none"/>
<path d="M286.9,1127 V1133" stroke-width="5.46" stroke-linecap="butt"/>
<path d="M264.5,1131.8 h42.6 v6.6 h-44.4 Z" fill="#231f20" stroke="none"/>
<path d="M268,1135.2 h5 M276.5,1135.2 h3" stroke-width="1.56" stroke="#fff" stroke-linecap="butt"/>
<path d="M266.3,1156.4 V1188.5 Q266.3,1195.4 273.3,1195.4 H300.4 Q307.4,1195.4 307.4,1188.5 V1156.4" stroke-width="3.12" fill="#fff"/>
<path d="M269.6,1158 V1187 Q269.6,1191.6 274,1191.6 H299.7 Q304.1,1191.6 304.1,1187 V1158" stroke-width="1.82" />
<path d="M273.3,1145 V1188 Q275.5,1192 277.7,1188 M282,1145 V1190.6 M291.7,1145 V1190.6 M300.4,1145 V1188 Q298.2,1192 296,1188" stroke-width="2.60" />
<path d="M277.7,1147 V1188 M296,1147 V1188" stroke-width="1.82" />
<path d="M269.6,1160.4 H304 M269.6,1163.4 H304 M269.6,1171.8 H304 M269.6,1174.2 H304 M269.6,1176.6 H304" stroke-width="1.43" />
<path d="M282,1166.3 H291.7 M282,1183.6 H291.7" stroke-width="1.95" />
</g>
<g transform="translate(323.4,0)">
<path d="M174.6,1141 V1156 M177.8,1142 V1156 M395.5,1142 V1156 M398.7,1141 V1156" stroke-width="2.08" />
<path d="M176.4,1053.6 H396.9 Q397.7,1053.6 397.7,1054.4 L398.4,1138 Q398.3,1141.4 395,1141.6 M176.4,1053.6 Q175.6,1053.6 175.6,1054.4 L174.9,1138 Q175,1141.4 178.3,1141.6" stroke-width="3.12" />
<path d="M176,1054.3 H397.3" stroke-width="3.90" />
<path d="M175.4,1069.3 H397.9" stroke-width="3.38" />
<path d="M178.3,1055 L177.6,1139 M395,1055 L395.7,1139" stroke-width="1.69" />
<path d="M186.4,1055 L188.7,1126 Q189.6,1140.1 203,1140.1 H370.3 Q383.7,1140.1 384.6,1126 L386.9,1055" stroke-width="3.38" />
<path d="M181,1137 Q186,1144.6 199,1144.6 H374.3 Q387.3,1144.6 392.3,1137" stroke-width="2.08" />
<path d="M179,1140 Q185,1147.2 199,1147 M394.3,1140 Q388.3,1147.2 374.3,1147 M355,1146.4 Q372,1151.6 396,1150.6" stroke-width="1.69" />
<path d="M184.6,1133 Q187.5,1141.5 196.5,1143 M388.7,1133 Q385.8,1141.5 376.8,1143" stroke-width="1.56" />
<path d="M175.3,1083 H171.6 V1141 H175" stroke-width="2.08" />
<path d="M171.6,1092.9 H166.4 V1103.6 H171.6 M169.2,1092.9 V1103.6" stroke-width="2.21" />
<path d="M171.6,1129.4 H167.9 V1140.1 H171.6 M170,1129.4 V1140.1" stroke-width="2.21" />
<path d="M397.99999999999994,1083 H401.69999999999993 V1141 H398.29999999999995" stroke-width="2.08" />
<path d="M401.69999999999993,1092.9 H406.9 V1103.6 H401.69999999999993 M404.09999999999997,1092.9 V1103.6" stroke-width="2.21" />
<path d="M401.69999999999993,1129.4 H405.4 V1140.1 H401.69999999999993 M403.29999999999995,1129.4 V1140.1" stroke-width="2.21" />
<path d="M234.8,1081.8 L235.8,1077.0 M238.0,1082.8 L239.7,1078.1 M241.1,1084.1 L243.4,1079.8 M244.0,1085.9 L246.8,1081.9 M246.5,1088.0 L249.9,1084.5 M248.8,1090.5 L252.6,1087.4 M250.7,1093.2 L254.9,1090.7 M252.3,1096.2 L256.8,1094.3 M253.4,1099.4 L258.1,1098.1 M254.0,1102.7 L258.9,1102.1 M254.2,1106.1 L259.1,1106.1 M253.9,1109.4 L258.8,1110.1 M253.2,1112.7 L257.9,1114.1 M252.0,1115.8 L256.5,1117.9 M250.5,1118.8 L254.6,1121.4 M248.5,1121.5 L252.2,1124.7 M246.2,1123.9 L249.5,1127.6 M243.5,1126.0 L246.3,1130.1 M240.6,1127.7 L242.8,1132.1 M237.5,1129.0 L239.1,1133.7 M234.3,1129.9 L235.2,1134.7 M230.9,1130.3 L231.2,1135.2 M227.6,1130.2 L227.2,1135.1 M224.3,1129.7 L223.2,1134.5 M221.0,1128.7 L219.3,1133.3 M218.0,1127.3 L215.6,1131.6 M215.2,1125.5 L212.2,1129.5 M212.6,1123.3 L209.2,1126.9 M210.4,1120.8 L206.5,1123.8 M208.5,1118.0 L204.2,1120.5 " stroke-width="2.21" stroke-linecap="butt"/>
<path d="M206.7,1114.2 L202.9,1115.5 M205.6,1110.4 L201.7,1111.2 M205.2,1106.5 L201.2,1106.6 M205.4,1102.6 L201.4,1102.1 M206.2,1098.8 L202.4,1097.6 M207.6,1095.1 L204.0,1093.4 M209.6,1091.7 L206.4,1089.5 " stroke-width="2.21" stroke-linecap="butt"/>
<circle cx="229.7" cy="1105.8" r="22.5" stroke-width="5.98" fill="#fff"/>
<path d="M227.1,1086.8 Q226.7,1111.8 217.2,1127.3 L221.7,1130.3 L229.7,1123.8 L237.7,1130.3 L242.2,1127.3 Q232.7,1111.8 232.29999999999998,1086.8 Z" stroke-width="2.86" fill="#fff"/>
<path d="M224.29999999999998,1090.8 Q224.29999999999998,1111.8 219.2,1125.8 M235.1,1090.8 Q235.1,1111.8 240.2,1125.8" stroke-width="1.82" />
<path d="M228.5,1088.8 V1097.8 M230.89999999999998,1088.8 V1097.8" stroke-width="1.56" />
<rect x="228.0" y="1096.8" width="3.4" height="4.4" fill="#231f20" stroke="none"/>
<path d="M229.7,1080.8 V1077.3" stroke-width="4.16" />
<path d="M197.1,1105.8 h4.5 M258.09999999999997,1105.8 h4.5" stroke-width="5.46" />
<path d="M229.7,1132.3 v3.4" stroke-width="5.46" />
<path d="M206.2,1126.1 h3 M250.7,1125.3999999999999 h3" stroke-width="5.46" />
<path d="M190,1129.8 H202.3" stroke-width="5.98" stroke-linecap="butt"/>
<circle cx="343.8" cy="1105.8" r="22.5" stroke-width="5.98" fill="#fff"/>
<path d="M352.6,1078.6 L353.8,1075.0 M359.8,1082.1 L361.9,1078.9 M365.7,1087.4 L368.6,1085.0 M369.9,1094.2 L373.4,1092.6 M372.1,1101.8 L375.9,1101.3 M372.1,1109.8 L375.9,1110.3 M369.9,1117.4 L373.4,1119.0 M365.7,1124.2 L368.6,1126.6 M359.8,1129.5 L361.9,1132.7 " stroke-width="4.68" />
<path d="M348.1,1081.6 L348.6,1078.8 M351.5,1082.4 L352.4,1079.8 M354.8,1083.8 L356.0,1081.3 M357.8,1085.6 L359.4,1083.3 M360.6,1087.8 L362.5,1085.7 M363.0,1090.4 L365.1,1088.6 M365.0,1093.3 L367.4,1091.9 M366.6,1096.4 L369.1,1095.4 M367.7,1099.8 L370.4,1099.1 M368.3,1103.3 L371.1,1103.0 M368.4,1106.8 L371.2,1106.9 M368.0,1110.3 L370.7,1110.8 M367.1,1113.7 L369.7,1114.6 M365.7,1117.0 L368.2,1118.3 M363.9,1120.0 L366.2,1121.6 M361.6,1122.7 L363.7,1124.7 M359.0,1125.1 L360.8,1127.3 M356.1,1127.1 L357.5,1129.5 " stroke-width="2.08" stroke-linecap="butt"/>
<path d="M340.8,1078.2 h12" stroke-width="4.16" stroke-linecap="butt"/>
<path d="M341.2,1086.8 Q340.8,1111.8 331.3,1127.3 L335.8,1130.3 L343.8,1123.8 L351.8,1130.3 L356.3,1127.3 Q346.8,1111.8 346.40000000000003,1086.8 Z" stroke-width="2.86" fill="#fff"/>
<path d="M338.40000000000003,1090.8 Q338.40000000000003,1111.8 333.3,1125.8 M349.2,1090.8 Q349.2,1111.8 354.3,1125.8" stroke-width="1.82" />
<path d="M342.6,1088.8 V1097.8 M345.0,1088.8 V1097.8" stroke-width="1.56" />
<rect x="342.1" y="1096.8" width="3.4" height="4.4" fill="#231f20" stroke="none"/>
<path d="M332,1133 h6 M341,1133 h6 M350,1132.6 h5 M357.5,1131.6 h5" stroke-width="5.20" stroke-linecap="butt"/>
<path d="M369.5,1131.2 h10" stroke-width="5.98" />
<circle cx="273.3" cy="1093.2" r="7.6" stroke-width="2.73" fill="#fff"/>
<path d="M266.0,1081.1 h14.6" stroke-width="4.68" stroke-linecap="butt"/>
<circle cx="300.4" cy="1093.2" r="7.6" stroke-width="2.73" fill="#fff"/>
<path d="M293.09999999999997,1081.1 h14.6" stroke-width="4.68" stroke-linecap="butt"/>
<rect x="283.2" y="1104.4" width="7" height="4.3" rx="1" fill="#231f20" stroke="none"/>
<ellipse cx="286.9" cy="1119.2" rx="7" ry="9" fill="#231f20" stroke="none"/>
<path d="M285.4,1114 h3 l-0.5,8.6 h-2 Z" fill="#fff" stroke="none"/>
<circle cx="286.9" cy="1112.7" r="1.2" stroke="#fff" stroke-width="0.91" fill="none"/>
<path d="M286.9,1127 V1133" stroke-width="5.46" stroke-linecap="butt"/>
<path d="M264.5,1131.8 h42.6 v6.6 h-44.4 Z" fill="#231f20" stroke="none"/>
<path d="M268,1135.2 h5 M276.5,1135.2 h3" stroke-width="1.56" stroke="#fff" stroke-linecap="butt"/>
<path d="M266.3,1156.4 V1188.5 Q266.3,1195.4 273.3,1195.4 H300.4 Q307.4,1195.4 307.4,1188.5 V1156.4" stroke-width="3.12" fill="#fff"/>
<path d="M269.6,1158 V1187 Q269.6,1191.6 274,1191.6 H299.7 Q304.1,1191.6 304.1,1187 V1158" stroke-width="1.82" />
<path d="M273.3,1145 V1188 Q275.5,1192 277.7,1188 M282,1145 V1190.6 M291.7,1145 V1190.6 M300.4,1145 V1188 Q298.2,1192 296,1188" stroke-width="2.60" />
<path d="M277.7,1147 V1188 M296,1147 V1188" stroke-width="1.82" />
<path d="M269.6,1160.4 H304 M269.6,1163.4 H304 M269.6,1171.8 H304 M269.6,1174.2 H304 M269.6,1176.6 H304" stroke-width="1.43" />
<path d="M282,1166.3 H291.7 M282,1183.6 H291.7" stroke-width="1.95" />
</g>
<g>
<path d="M126.8,1277.4 H106.8 Q103.2,1277.6 102.2,1281.6 L100.2,1289.6 L94.4,1290.6 Q91.8,1291.4 91.7,1294.4 V1407.8 Q91.8,1410.8 94.4,1411.6 L100.2,1412.6 L102.2,1420.6 Q103.2,1424.6 106.8,1424.8 H126.8" stroke-width="3.12" fill="#fff"/>
<path d="M96,1291.6 Q100.6,1351 96,1410.6 M99.4,1290 Q105.4,1351 99.4,1412.4 M102.6,1281 Q112.4,1351 102.6,1421 M105.6,1278.6 Q115.6,1351 105.6,1423.6" stroke-width="1.69" />
<path d="M94,1292 Q96.6,1351 94,1410" stroke-width="1.56" />
<path d="M105.6,1288 H126.8 M108,1302.7 H126.8 M110,1329.1 H126.8 M110,1373.1 H126.8 M108,1399.5 H126.8 M105.6,1413.8 H126.8" stroke-width="2.60" />
</g>
<g transform="translate(897.9,0) scale(-1,1)">
<path d="M126.8,1277.4 H106.8 Q103.2,1277.6 102.2,1281.6 L100.2,1289.6 L94.4,1290.6 Q91.8,1291.4 91.7,1294.4 V1407.8 Q91.8,1410.8 94.4,1411.6 L100.2,1412.6 L102.2,1420.6 Q103.2,1424.6 106.8,1424.8 H126.8" stroke-width="3.12" fill="#fff"/>
<path d="M96,1291.6 Q100.6,1351 96,1410.6 M99.4,1290 Q105.4,1351 99.4,1412.4 M102.6,1281 Q112.4,1351 102.6,1421 M105.6,1278.6 Q115.6,1351 105.6,1423.6" stroke-width="1.69" />
<path d="M94,1292 Q96.6,1351 94,1410" stroke-width="1.56" />
<path d="M105.6,1288 H126.8 M108,1302.7 H126.8 M110,1329.1 H126.8 M110,1373.1 H126.8 M108,1399.5 H126.8 M105.6,1413.8 H126.8" stroke-width="2.60" />
</g>
<path d="M426,1558.4 H471.5 M422,1562 H475" stroke-width="1.95" />
<path d="M141.8,1156.4 H266.3 M307.4,1156.4 H431.8 Q446.9,1156.4 446.9,1171.4 V1527 Q446.9,1533.4 442.6,1537.8 L421,1560.6 Q416.4,1565.7 409.6,1565.7 H165 Q158.2,1565.7 153.6,1560.6 L131.2,1537.8 Q126.9,1533.4 126.9,1527 V1171.4 Q126.9,1156.4 141.8,1156.4" stroke-width="3.64" />
<path d="M466,1156.4 H589.7 M630.8,1156.4 H756 Q771,1156.4 771,1171.4 V1527 Q771,1533.4 766.7,1537.8 L745,1560.6 Q740.4,1565.7 733.6,1565.7 H486 Q479.2,1565.7 474.6,1560.6 L455.3,1537.8 Q451,1533.4 451,1527 V1171.4 Q451,1156.4 466,1156.4" stroke-width="3.64" />
<path d="M448.9,1166 V1530" stroke-width="1.56" />
<g transform="translate(0,0)">
<rect x="272.5" y="1279.8" width="28.4" height="155.6" rx="3" stroke-width="3.12" fill="#fff"/>
<path d="M276.4,1282.6 Q279.6,1357.5 276.4,1432.6 M297,1282.6 Q293.8,1357.5 297,1432.6" stroke-width="3.90" />
<path d="M276.5,1284 H297 M276.6,1293.9 H296.8 M277.2,1310 H296.2 M277.8,1336.1 H295.6 M277.8,1379.7 H295.6 M277.2,1405.5 H296.2 M276.7,1420.4 H296.7 M276.5,1430.3 H297" stroke-width="2.47" />
<path d="M276.5,1287.2 H297 M276.5,1427.6 H297" stroke-width="1.43" />
</g>
<g transform="translate(323,0)">
<rect x="272.5" y="1279.8" width="28.4" height="155.6" rx="3" stroke-width="3.12" fill="#fff"/>
<path d="M276.4,1282.6 Q279.6,1357.5 276.4,1432.6 M297,1282.6 Q293.8,1357.5 297,1432.6" stroke-width="3.90" />
<path d="M276.5,1284 H297 M276.6,1293.9 H296.8 M277.2,1310 H296.2 M277.8,1336.1 H295.6 M277.8,1379.7 H295.6 M277.2,1405.5 H296.2 M276.7,1420.4 H296.7 M276.5,1430.3 H297" stroke-width="2.47" />
<path d="M276.5,1287.2 H297 M276.5,1427.6 H297" stroke-width="1.43" />
</g>
</g>
<g id="cfesa">
<path d="M681.6,2087.4 A21.5,21.5 0 1 1 638.9,2087 A22.1,22.1 0 0 0 681.6,2087.4 Z" fill="#b5b6ba"/>
<path d="M652.6,2111.6 A21.2,21.2 0 1 1 652.6,2069.6 A21.7,21.7 0 0 0 652.6,2111.6 Z" fill="#2a5ea8"/>
<path d="M627.5,2082.6 A21.3,21.3 0 1 1 669.7,2083 A21.9,21.9 0 0 0 627.5,2082.6 Z" fill="#a62a2b"/>
<path d="M657,2058.4 A20.9,20.9 0 1 1 656.5,2099.7 A21.45,21.45 0 0 0 657,2058.4 Z" fill="#eeb03e"/>
<text x="694.35" y="2071.10" textLength="176.64" lengthAdjust="spacingAndGlyphs" style="font-family:'Liberation Sans', sans-serif;font-size:16.2px;fill:#7d7f82;stroke:#7d7f82;stroke-width:0.5px;">PROUD MEMBER</text>
<rect x="696" y="2073.2" width="174.4" height="1.7" fill="#9b9da0"/>
<g transform="translate(0,0)">
<text x="684.33" y="2111.00" textLength="199.53" lengthAdjust="spacingAndGlyphs" style="font-family:'Liberation Sans', sans-serif;font-weight:bold;font-style:italic;font-size:41.6px;fill:#a52b2d;stroke:#a52b2d;stroke-width:1.4px;">CFESA</text>
</g>
<text x="875.89" y="2087.00" textLength="5.22" lengthAdjust="spacingAndGlyphs" style="font-family:'Liberation Sans', sans-serif;font-size:7px;fill:#a52b2d;">®</text>
<text x="627.36" y="2125.70" textLength="253.76" lengthAdjust="spacingAndGlyphs" style="font-family:'Liberation Sans', sans-serif;font-style:italic;font-size:9.8px;fill:#8a8c8f;stroke:#8a8c8f;stroke-width:0.25px;">Commercial Food Equipment Service Association</text>
</g>
<g fill="none" stroke="#1d1a1f">
<path d="M1004.62,2104.76 A28.50,28.50 0 1 1 1031.38,2104.76" stroke-width="4.2" stroke-linecap="butt"/>
<clipPath id="clip1018"><circle cx="1018" cy="2079.6" r="23.00"/></clipPath>
<g clip-path="url(#clip1018)" fill="#1d1a1f" stroke="none">
<path d="M1012.4,2055.6 H1010 A23.000000000000004,23.000000000000004 0 0 0 1010,2103.6 H1012.4 V2097.1 H1010.6 A17.400000000000006,17.400000000000006 0 0 1 1001,2082.6 H1010.6 V2076.6 H1001 A17.400000000000006,17.400000000000006 0 0 1 1010.6,2062.1 H1012.4 Z" transform="translate(0,0)"/>
<rect x="994" y="2055.6" width="17.4" height="2" opacity="0"/>
</g>
<g clip-path="url(#clip1018)" stroke="#1d1a1f" fill="none" stroke-linecap="butt">
<path d="M1010.8,2059.50 A20.10,20.10 0 0 0 1010.8,2099.70" stroke-width="5.8"/>
<path d="M998,2079.6 H1010.8" stroke-width="5.4"/>
<path d="M1013.4,2058.80 H1025.8" stroke-width="4.6"/>
<path d="M1018.6,2056.60 V2102.60" stroke-width="5.6"/>
</g>
<g clip-path="url(#clip1018)" fill="#1d1a1f" stroke="none">
<path d="M1026.6,2056.60 L1031.6,2059.60 L1032.6,2087.6 L1035.4,2077.0 L1040.4,2077.0 Q1039,2093.6 1026.6,2102.60 Z"/>
</g>
<circle cx="1036.3" cy="2074.6" r="1.1" fill="#1d1a1f" stroke="none"/>
</g>
<text transform="translate(1008.86,2108.59) rotate(17.5)" text-anchor="middle" style="font-family:'Liberation Sans',sans-serif;font-weight:bold;font-size:5.4px;fill:#1d1a1f;">L</text>
<text transform="translate(1012.46,2109.49) rotate(10.5)" text-anchor="middle" style="font-family:'Liberation Sans',sans-serif;font-weight:bold;font-size:5.4px;fill:#1d1a1f;">I</text>
<text transform="translate(1016.14,2109.94) rotate(3.5)" text-anchor="middle" style="font-family:'Liberation Sans',sans-serif;font-weight:bold;font-size:5.4px;fill:#1d1a1f;">S</text>
<text transform="translate(1019.86,2109.94) rotate(-3.5)" text-anchor="middle" style="font-family:'Liberation Sans',sans-serif;font-weight:bold;font-size:5.4px;fill:#1d1a1f;">T</text>
<text transform="translate(1023.54,2109.49) rotate(-10.5)" text-anchor="middle" style="font-family:'Liberation Sans',sans-serif;font-weight:bold;font-size:5.4px;fill:#1d1a1f;">E</text>
<text transform="translate(1027.14,2108.59) rotate(-17.5)" text-anchor="middle" style="font-family:'Liberation Sans',sans-serif;font-weight:bold;font-size:5.4px;fill:#1d1a1f;">D</text>
<text x="979.56" y="2099.80" textLength="7.73" lengthAdjust="spacingAndGlyphs" style="font-family:'Liberation Sans', sans-serif;font-weight:bold;font-size:11.2px;fill:#1d1a1f;">C</text>
<text x="1048.39" y="2099.80" textLength="14.21" lengthAdjust="spacingAndGlyphs" style="font-family:'Liberation Sans', sans-serif;font-weight:bold;font-size:11.2px;fill:#1d1a1f;">US</text>
<rect x="989.9" y="2115" width="57.6" height="1.9" fill="#1d1a1f"/>
<text x="989.13" y="2133.00" textLength="57.75" lengthAdjust="spacingAndGlyphs" style="font-family:'Liberation Sans', sans-serif;font-weight:bold;font-size:16.4px;fill:#1d1a1f;">Intertek</text>
<g fill="none" stroke="#1d1a1f">
<path d="M1084.44,2090.69 A28.00,28.00 0 1 1 1136.36,2090.69" stroke-width="4.0" stroke-linecap="butt"/>
<clipPath id="clip1110"><circle cx="1110.4" cy="2080.2" r="22.60"/></clipPath>
<g clip-path="url(#clip1110)" fill="#1d1a1f" stroke="none">
<path d="M1104.8000000000002,2056.6 H1102.4 A22.6,22.6 0 0 0 1102.4,2103.7999999999997 H1104.8000000000002 V2097.2999999999997 H1103.0 A17.0,17.0 0 0 1 1093.4,2083.2 H1103.0 V2077.2 H1093.4 A17.0,17.0 0 0 1 1103.0,2063.1 H1104.8000000000002 Z" transform="translate(0,0)"/>
<rect x="1086.4" y="2056.6" width="17.4" height="2" opacity="0"/>
</g>
<g clip-path="url(#clip1110)" stroke="#1d1a1f" fill="none" stroke-linecap="butt">
<path d="M1103.2,2060.50 A19.70,19.70 0 0 0 1103.2,2099.90" stroke-width="5.8"/>
<path d="M1090.4,2080.2 H1103.2" stroke-width="5.4"/>
<path d="M1105.8000000000002,2059.80 H1118.2" stroke-width="4.6"/>
<path d="M1111.0,2057.60 V2102.80" stroke-width="5.6"/>
</g>
<g clip-path="url(#clip1110)" fill="#1d1a1f" stroke="none">
<path d="M1119.0,2057.60 L1124.0,2060.60 L1125.0,2088.2 L1127.8000000000002,2077.6 L1132.8000000000002,2077.6 Q1131.4,2094.2 1119.0,2102.80 Z"/>
</g>
<circle cx="1128.7" cy="2075.2" r="1.1" fill="#1d1a1f" stroke="none"/>
</g>
<text transform="translate(1083.62,2093.73) rotate(63.2)" text-anchor="middle" style="font-family:'Liberation Sans',sans-serif;font-weight:bold;font-size:5.0px;fill:#1d1a1f;">S</text>
<text transform="translate(1085.74,2097.28) rotate(55.3)" text-anchor="middle" style="font-family:'Liberation Sans',sans-serif;font-weight:bold;font-size:5.0px;fill:#1d1a1f;">A</text>
<text transform="translate(1088.32,2100.51) rotate(47.4)" text-anchor="middle" style="font-family:'Liberation Sans',sans-serif;font-weight:bold;font-size:5.0px;fill:#1d1a1f;">N</text>
<text transform="translate(1091.32,2103.35) rotate(39.5)" text-anchor="middle" style="font-family:'Liberation Sans',sans-serif;font-weight:bold;font-size:5.0px;fill:#1d1a1f;">I</text>
<text transform="translate(1094.68,2105.75) rotate(31.6)" text-anchor="middle" style="font-family:'Liberation Sans',sans-serif;font-weight:bold;font-size:5.0px;fill:#1d1a1f;">T</text>
<text transform="translate(1098.34,2107.67) rotate(23.7)" text-anchor="middle" style="font-family:'Liberation Sans',sans-serif;font-weight:bold;font-size:5.0px;fill:#1d1a1f;">A</text>
<text transform="translate(1102.23,2109.07) rotate(15.8)" text-anchor="middle" style="font-family:'Liberation Sans',sans-serif;font-weight:bold;font-size:5.0px;fill:#1d1a1f;">T</text>
<text transform="translate(1106.28,2109.92) rotate(7.9)" text-anchor="middle" style="font-family:'Liberation Sans',sans-serif;font-weight:bold;font-size:5.0px;fill:#1d1a1f;">I</text>
<text transform="translate(1110.40,2110.20) rotate(-0.0)" text-anchor="middle" style="font-family:'Liberation Sans',sans-serif;font-weight:bold;font-size:5.0px;fill:#1d1a1f;">O</text>
<text transform="translate(1114.52,2109.92) rotate(-7.9)" text-anchor="middle" style="font-family:'Liberation Sans',sans-serif;font-weight:bold;font-size:5.0px;fill:#1d1a1f;">N</text>
<text transform="translate(1122.46,2107.67) rotate(-23.7)" text-anchor="middle" style="font-family:'Liberation Sans',sans-serif;font-weight:bold;font-size:5.0px;fill:#1d1a1f;">L</text>
<text transform="translate(1126.12,2105.75) rotate(-31.6)" text-anchor="middle" style="font-family:'Liberation Sans',sans-serif;font-weight:bold;font-size:5.0px;fill:#1d1a1f;">I</text>
<text transform="translate(1129.48,2103.35) rotate(-39.5)" text-anchor="middle" style="font-family:'Liberation Sans',sans-serif;font-weight:bold;font-size:5.0px;fill:#1d1a1f;">S</text>
<text transform="translate(1132.48,2100.51) rotate(-47.4)" text-anchor="middle" style="font-family:'Liberation Sans',sans-serif;font-weight:bold;font-size:5.0px;fill:#1d1a1f;">T</text>
<text transform="translate(1135.06,2097.28) rotate(-55.3)" text-anchor="middle" style="font-family:'Liberation Sans',sans-serif;font-weight:bold;font-size:5.0px;fill:#1d1a1f;">E</text>
<text transform="translate(1137.18,2093.73) rotate(-63.2)" text-anchor="middle" style="font-family:'Liberation Sans',sans-serif;font-weight:bold;font-size:5.0px;fill:#1d1a1f;">D</text>
<rect x="1083.2" y="2115" width="56.8" height="1.9" fill="#1d1a1f"/>
<text x="1082.46" y="2133.00" textLength="56.33" lengthAdjust="spacingAndGlyphs" style="font-family:'Liberation Sans', sans-serif;font-weight:bold;font-size:16.4px;fill:#1d1a1f;">Intertek</text>
<circle cx="1289.5" cy="2079.3" r="26.5" fill="none" stroke="#1d1a1f" stroke-width="3.4"/>
<circle cx="1289.5" cy="2068.5" r="5.4" fill="#1d1a1f"/>
<rect x="1274.2" y="2076.3" width="6.6" height="16.5" rx="3.3" fill="#1d1a1f"/>
<rect x="1289.1" y="2081.7" width="16.8" height="6.2" rx="3.1" fill="#1d1a1f"/>
<text x="1250.63" y="2133.70" textLength="77.76" lengthAdjust="spacingAndGlyphs" style="font-family:'Liberation Sans', sans-serif;font-size:15.8px;fill:#1d1a1f;stroke:#1d1a1f;stroke-width:0.3px;">MEMA 6-20P</text>
<defs><linearGradient id="sg" x1="0" y1="0" x2="1" y2="0">
<stop offset="0" stop-color="#6cc0e1"/><stop offset="0.2955" stop-color="#5ea8d4"/><stop offset="0.3005" stop-color="#519fcc"/>
<stop offset="0.55" stop-color="#4889c1"/><stop offset="0.75" stop-color="#3b71b4"/>
<stop offset="1" stop-color="#3362a9"/></linearGradient></defs>
<path d="M1039,1088.5 V1086.8 A60,60 0 0 1 1099,1026.8 H1846 V1028.8 A60,58.5 0 0 1 1786,1088.5 Z" fill="url(#sg)"/>
<path d="M1039,1098.5 H1846 V1566.6 A37,37 0 0 1 1809,1603.6 H1076 A37,37 0 0 1 1039,1566.6 Z" fill="url(#sg)"/>
<rect x="1475" y="1108" width="7.9" height="483" fill="#8fb5dc" opacity="0.55"/>
<text x="1375.54" y="1071.80" textLength="160.74" lengthAdjust="spacingAndGlyphs" style="font-family:'Liberation Sans', sans-serif;font-weight:bold;font-size:41.5px;fill:#ffffff;">DCF15ED</text><text x="1376.14" y="1071.80" textLength="160.74" lengthAdjust="spacingAndGlyphs" style="font-family:'Liberation Sans', sans-serif;font-weight:bold;font-size:41.5px;fill:#ffffff;">DCF15ED</text>
<text x="1243.23" y="1157.20" textLength="209.67" lengthAdjust="spacingAndGlyphs" style="font-family:'Liberation Sans', sans-serif;font-size:40.5px;fill:#ffffff;">BASKET SIZE</text><text x="1244.03" y="1157.20" textLength="209.67" lengthAdjust="spacingAndGlyphs" style="font-family:'Liberation Sans', sans-serif;font-size:40.5px;fill:#ffffff;">BASKET SIZE</text>
<text x="1502.02" y="1157.20" textLength="214.71" lengthAdjust="spacingAndGlyphs" style="font-family:'Liberation Sans', sans-serif;font-size:40.5px;fill:#ffffff;">11”x9”x4 3/5”</text><text x="1502.82" y="1157.20" textLength="214.71" lengthAdjust="spacingAndGlyphs" style="font-family:'Liberation Sans', sans-serif;font-size:40.5px;fill:#ffffff;">11”x9”x4 3/5”</text>
<text x="1146.08" y="1218.70" textLength="310.08" lengthAdjust="spacingAndGlyphs" style="font-family:'Liberation Sans', sans-serif;font-size:40.5px;fill:#ffffff;">NUMBER OF BOXES</text><text x="1146.88" y="1218.70" textLength="310.08" lengthAdjust="spacingAndGlyphs" style="font-family:'Liberation Sans', sans-serif;font-size:40.5px;fill:#ffffff;">NUMBER OF BOXES</text>
<text x="1506.17" y="1218.70" textLength="20.27" lengthAdjust="spacingAndGlyphs" style="font-family:'Liberation Sans', sans-serif;font-size:40.5px;fill:#ffffff;">2</text><text x="1506.97" y="1218.70" textLength="20.27" lengthAdjust="spacingAndGlyphs" style="font-family:'Liberation Sans', sans-serif;font-size:40.5px;fill:#ffffff;">2</text>
<text x="1075.36" y="1288.60" textLength="381.33" lengthAdjust="spacingAndGlyphs" style="font-family:'Liberation Sans', sans-serif;font-size:40.5px;fill:#ffffff;">CYLINDER CAPACITY (L)</text><text x="1076.16" y="1288.60" textLength="381.33" lengthAdjust="spacingAndGlyphs" style="font-family:'Liberation Sans', sans-serif;font-size:40.5px;fill:#ffffff;">CYLINDER CAPACITY (L)</text>
<text x="1505.35" y="1288.60" textLength="95.68" lengthAdjust="spacingAndGlyphs" style="font-family:'Liberation Sans', sans-serif;font-size:40.5px;fill:#ffffff;">7L+7L</text><text x="1506.15" y="1288.60" textLength="95.68" lengthAdjust="spacingAndGlyphs" style="font-family:'Liberation Sans', sans-serif;font-size:40.5px;fill:#ffffff;">7L+7L</text>
<text x="1256.76" y="1359.30" textLength="196.66" lengthAdjust="spacingAndGlyphs" style="font-family:'Liberation Sans', sans-serif;font-size:40.5px;fill:#ffffff;">VOLTAGE (V)</text><text x="1257.56" y="1359.30" textLength="196.66" lengthAdjust="spacingAndGlyphs" style="font-family:'Liberation Sans', sans-serif;font-size:40.5px;fill:#ffffff;">VOLTAGE (V)</text>
<text x="1504.74" y="1359.30" textLength="100.19" lengthAdjust="spacingAndGlyphs" style="font-family:'Liberation Sans', sans-serif;font-size:40.5px;fill:#ffffff;">AC208</text><text x="1505.54" y="1359.30" textLength="100.19" lengthAdjust="spacingAndGlyphs" style="font-family:'Liberation Sans', sans-serif;font-size:40.5px;fill:#ffffff;">AC208</text>
<text x="1272.94" y="1427.80" textLength="183.77" lengthAdjust="spacingAndGlyphs" style="font-family:'Liberation Sans', sans-serif;font-size:40.5px;fill:#ffffff;">POWER (W)</text><text x="1273.74" y="1427.80" textLength="183.77" lengthAdjust="spacingAndGlyphs" style="font-family:'Liberation Sans', sans-serif;font-size:40.5px;fill:#ffffff;">POWER (W)</text>
<text x="1505.42" y="1427.80" textLength="158.50" lengthAdjust="spacingAndGlyphs" style="font-family:'Liberation Sans', sans-serif;font-size:40.5px;fill:#ffffff;">2@3300W</text><text x="1506.22" y="1427.80" textLength="158.50" lengthAdjust="spacingAndGlyphs" style="font-family:'Liberation Sans', sans-serif;font-size:40.5px;fill:#ffffff;">2@3300W</text>
<text x="1173.31" y="1494.00" textLength="283.50" lengthAdjust="spacingAndGlyphs" style="font-family:'Liberation Sans', sans-serif;font-size:40.5px;fill:#ffffff;">NEMA (Plug Type)</text><text x="1174.11" y="1494.00" textLength="283.50" lengthAdjust="spacingAndGlyphs" style="font-family:'Liberation Sans', sans-serif;font-size:40.5px;fill:#ffffff;">NEMA (Plug Type)</text>
<text x="1505.33" y="1494.00" textLength="93.22" lengthAdjust="spacingAndGlyphs" style="font-family:'Liberation Sans', sans-serif;font-size:40.5px;fill:#ffffff;">6-20P</text><text x="1506.13" y="1494.00" textLength="93.22" lengthAdjust="spacingAndGlyphs" style="font-family:'Liberation Sans', sans-serif;font-size:40.5px;fill:#ffffff;">6-20P</text>
<text x="1243.86" y="1564.90" textLength="209.64" lengthAdjust="spacingAndGlyphs" style="font-family:'Liberation Sans', sans-serif;font-size:40.5px;fill:#ffffff;">CURRENT (A)</text><text x="1244.66" y="1564.90" textLength="209.64" lengthAdjust="spacingAndGlyphs" style="font-family:'Liberation Sans', sans-serif;font-size:40.5px;fill:#ffffff;">CURRENT (A)</text>
<text x="1503.10" y="1564.90" textLength="141.57" lengthAdjust="spacingAndGlyphs" style="font-family:'Liberation Sans', sans-serif;font-size:40.5px;fill:#ffffff;">2@15.8A</text><text x="1503.90" y="1564.90" textLength="141.57" lengthAdjust="spacingAndGlyphs" style="font-family:'Liberation Sans', sans-serif;font-size:40.5px;fill:#ffffff;">2@15.8A</text>
<rect x="54.7" y="1776.3" width="1838.8999999999999" height="110.70000000000005" fill="#3e6d96"/>
<rect x="54.7" y="1887.0" width="1838.8999999999999" height="103.09999999999991" fill="#f2f3f3"/>
<g stroke="#231f20" stroke-width="3.3" fill="none" stroke-linecap="square">
<rect x="54.7" y="1776.3" width="1838.8999999999999" height="213.79999999999995"/>
<path d="M54.7,1887.0 H1893.6"/>
<path d="M361,1776.3 V1887.0"/>
<path d="M1280,1776.3 V1887.0"/>
<path d="M1586.4,1776.3 V1887.0"/>
<path d="M667.2,1830.3 V1887.0"/>
<path d="M973.7,1830.3 V1887.0"/>
<path d="M361,1830.3 H1280"/>
</g>
<text x="153.73" y="1840.80" textLength="81.88" lengthAdjust="spacingAndGlyphs" style="font-family:'Liberation Sans', sans-serif;font-size:39px;fill:#1f1d22;">Model</text><text x="154.43" y="1840.80" textLength="81.88" lengthAdjust="spacingAndGlyphs" style="font-family:'Liberation Sans', sans-serif;font-size:39px;fill:#1f1d22;">Model</text>
<text x="590.89" y="1819.20" textLength="411.53" lengthAdjust="spacingAndGlyphs" style="font-family:'Liberation Sans', sans-serif;font-size:38px;fill:#1f1d22;">Packaging Dimensions (inches)</text><text x="591.59" y="1819.20" textLength="411.53" lengthAdjust="spacingAndGlyphs" style="font-family:'Liberation Sans', sans-serif;font-size:38px;fill:#1f1d22;">Packaging Dimensions (inches)</text>
<text x="502.90" y="1874.60" textLength="22.18" lengthAdjust="spacingAndGlyphs" style="font-family:'Liberation Sans', sans-serif;font-size:37px;fill:#1f1d22;">W</text><text x="503.60" y="1874.60" textLength="22.18" lengthAdjust="spacingAndGlyphs" style="font-family:'Liberation Sans', sans-serif;font-size:37px;fill:#1f1d22;">W</text>
<text x="811.41" y="1874.60" textLength="18.41" lengthAdjust="spacingAndGlyphs" style="font-family:'Liberation Sans', sans-serif;font-size:37px;fill:#1f1d22;">D</text><text x="812.11" y="1874.60" textLength="18.41" lengthAdjust="spacingAndGlyphs" style="font-family:'Liberation Sans', sans-serif;font-size:37px;fill:#1f1d22;">D</text>
<text x="1115.46" y="1874.60" textLength="22.37" lengthAdjust="spacingAndGlyphs" style="font-family:'Liberation Sans', sans-serif;font-size:37px;fill:#1f1d22;">H</text><text x="1116.16" y="1874.60" textLength="22.37" lengthAdjust="spacingAndGlyphs" style="font-family:'Liberation Sans', sans-serif;font-size:37px;fill:#1f1d22;">H</text>
<text x="1359.99" y="1822.30" textLength="145.02" lengthAdjust="spacingAndGlyphs" style="font-family:'Liberation Sans', sans-serif;font-size:38px;fill:#1f1d22;">Net Weight</text><text x="1360.69" y="1822.30" textLength="145.02" lengthAdjust="spacingAndGlyphs" style="font-family:'Liberation Sans', sans-serif;font-size:38px;fill:#1f1d22;">Net Weight</text>
<text x="1403.80" y="1865.80" textLength="59.60" lengthAdjust="spacingAndGlyphs" style="font-family:'Liberation Sans', sans-serif;font-size:38px;fill:#1f1d22;">(lbs)</text><text x="1404.50" y="1865.80" textLength="59.60" lengthAdjust="spacingAndGlyphs" style="font-family:'Liberation Sans', sans-serif;font-size:38px;fill:#1f1d22;">(lbs)</text>
<text x="1660.48" y="1822.30" textLength="156.53" lengthAdjust="spacingAndGlyphs" style="font-family:'Liberation Sans', sans-serif;font-size:38px;fill:#1f1d22;">Ship Weight</text><text x="1661.18" y="1822.30" textLength="156.53" lengthAdjust="spacingAndGlyphs" style="font-family:'Liberation Sans', sans-serif;font-size:38px;fill:#1f1d22;">Ship Weight</text>
<text x="1710.10" y="1865.80" textLength="59.60" lengthAdjust="spacingAndGlyphs" style="font-family:'Liberation Sans', sans-serif;font-size:38px;fill:#1f1d22;">(lbs)</text><text x="1710.80" y="1865.80" textLength="59.60" lengthAdjust="spacingAndGlyphs" style="font-family:'Liberation Sans', sans-serif;font-size:38px;fill:#1f1d22;">(lbs)</text>
<text x="145.48" y="1951.80" textLength="123.21" lengthAdjust="spacingAndGlyphs" style="font-family:'Liberation Sans', sans-serif;font-size:38px;fill:#1f1d22;">DCF15ED</text><text x="146.18" y="1951.80" textLength="123.21" lengthAdjust="spacingAndGlyphs" style="font-family:'Liberation Sans', sans-serif;font-size:38px;fill:#1f1d22;">DCF15ED</text>
<text x="466.15" y="1951.80" textLength="95.88" lengthAdjust="spacingAndGlyphs" style="font-family:'Liberation Sans', sans-serif;font-size:38px;fill:#1f1d22;">28 1/8”</text><text x="466.85" y="1951.80" textLength="95.88" lengthAdjust="spacingAndGlyphs" style="font-family:'Liberation Sans', sans-serif;font-size:38px;fill:#1f1d22;">28 1/8”</text>
<text x="772.35" y="1951.80" textLength="95.98" lengthAdjust="spacingAndGlyphs" style="font-family:'Liberation Sans', sans-serif;font-size:38px;fill:#1f1d22;">21 3/8”</text><text x="773.05" y="1951.80" textLength="95.98" lengthAdjust="spacingAndGlyphs" style="font-family:'Liberation Sans', sans-serif;font-size:38px;fill:#1f1d22;">21 3/8”</text>
<text x="1074.43" y="1951.80" textLength="96.81" lengthAdjust="spacingAndGlyphs" style="font-family:'Liberation Sans', sans-serif;font-size:38px;fill:#1f1d22;">14 3/8”</text><text x="1075.13" y="1951.80" textLength="96.81" lengthAdjust="spacingAndGlyphs" style="font-family:'Liberation Sans', sans-serif;font-size:38px;fill:#1f1d22;">14 3/8”</text>
<text x="1404.19" y="1951.80" textLength="58.62" lengthAdjust="spacingAndGlyphs" style="font-family:'Liberation Sans', sans-serif;font-size:38px;fill:#1f1d22;">29.8</text><text x="1404.89" y="1951.80" textLength="58.62" lengthAdjust="spacingAndGlyphs" style="font-family:'Liberation Sans', sans-serif;font-size:38px;fill:#1f1d22;">29.8</text>
<text x="1723.49" y="1951.80" textLength="32.33" lengthAdjust="spacingAndGlyphs" style="font-family:'Liberation Sans', sans-serif;font-size:38px;fill:#1f1d22;">35</text><text x="1724.19" y="1951.80" textLength="32.33" lengthAdjust="spacingAndGlyphs" style="font-family:'Liberation Sans', sans-serif;font-size:38px;fill:#1f1d22;">35</text>
</svg></body></html>
